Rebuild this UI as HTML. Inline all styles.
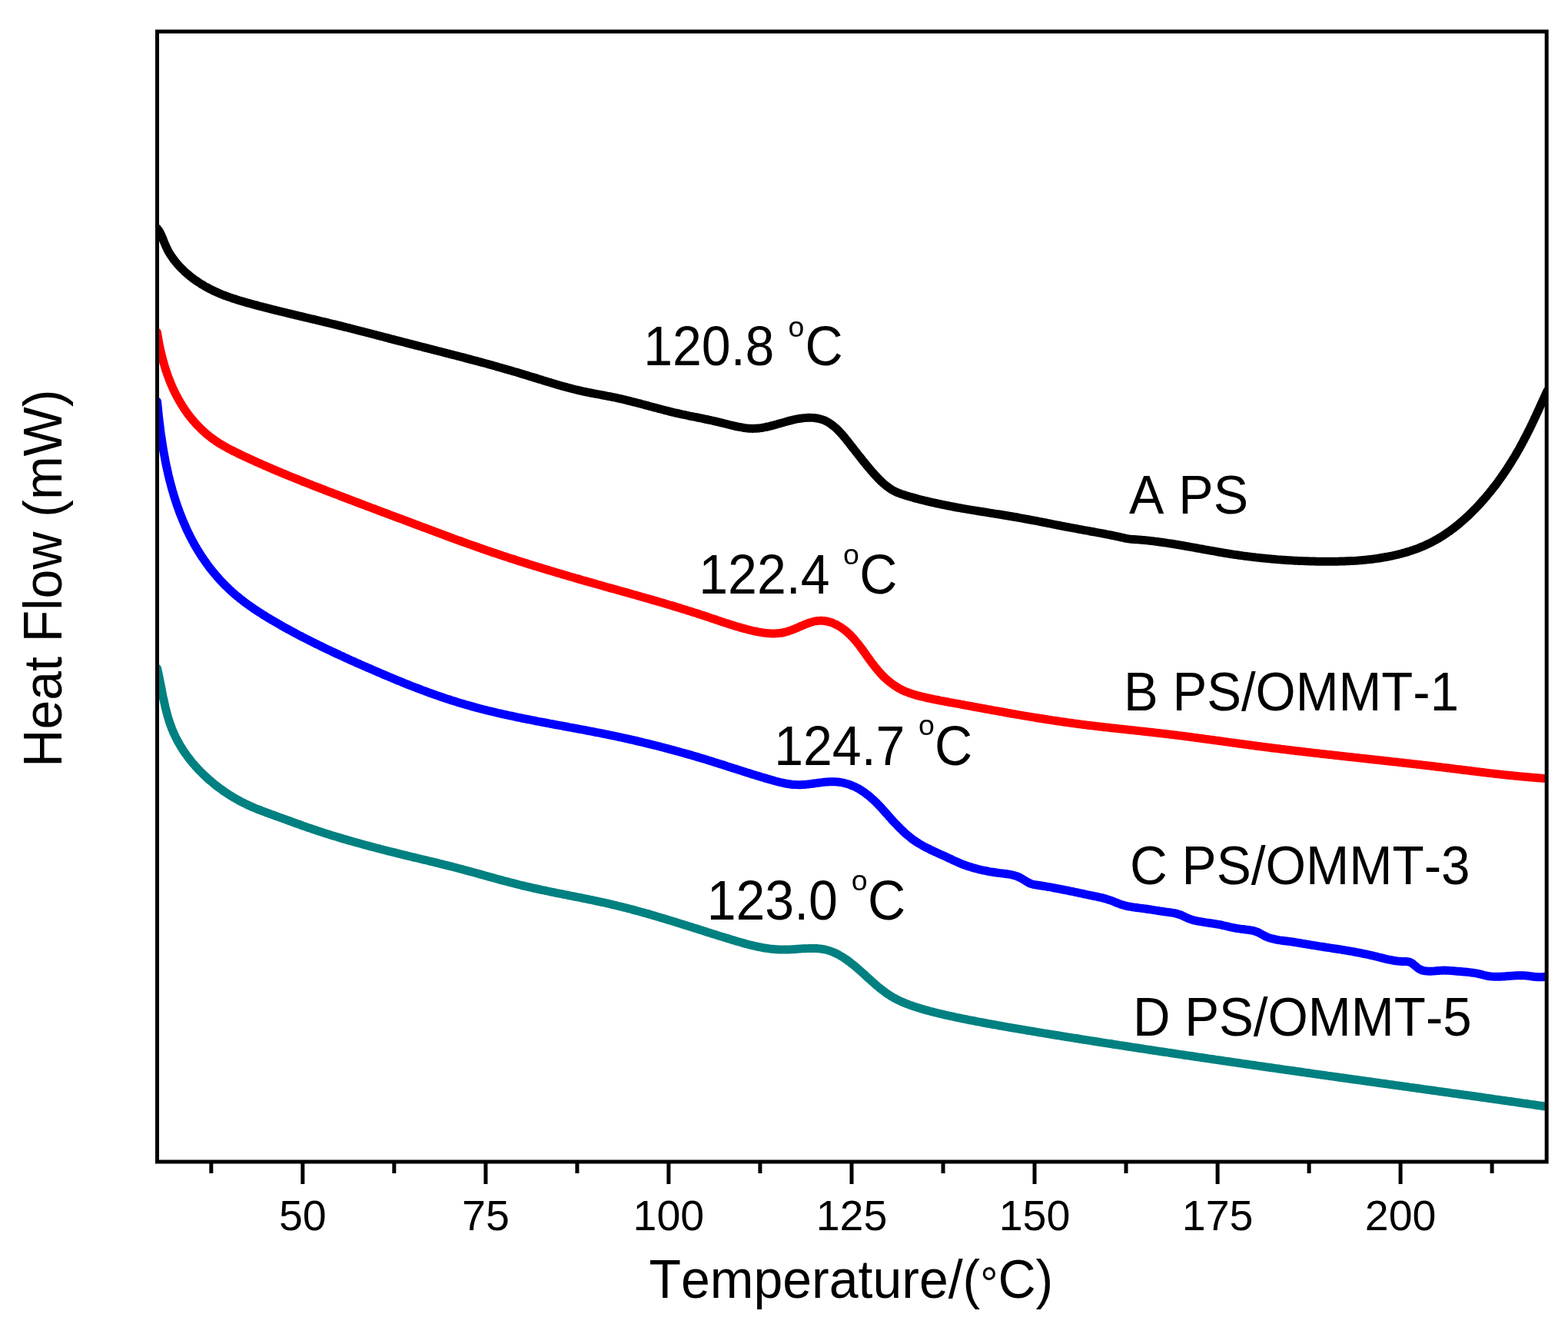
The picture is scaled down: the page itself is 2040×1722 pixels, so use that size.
<!DOCTYPE html>
<html><head><meta charset="utf-8"><title>DSC curves</title>
<style>html,body{margin:0;padding:0;background:#fff;}svg{display:block;filter:blur(0.6px);}text{font-family:"Liberation Sans",Arial,sans-serif;font-kerning:none;}</style>
</head><body>
<svg width="2040" height="1722" viewBox="0 0 2040 1722">
<rect width="100%" height="100%" fill="#fff"/>
<defs><clipPath id="pa"><rect x="204.5" y="41.0" width="1807.7" height="1470.0"/></clipPath></defs>
<g clip-path="url(#pa)" fill="none" stroke-width="11" stroke-linejoin="round" stroke-linecap="round">
<path d="M204.5,297.0 C205.1,297.8 205.7,298.6 206.3,299.4 C206.9,300.3 207.4,301.1 207.9,302.0 C208.4,302.9 208.8,303.8 209.3,304.6 C209.7,305.5 210.1,306.4 210.5,307.4 C210.9,308.3 211.3,309.2 211.7,310.1 C212.1,311.0 212.4,312.0 212.8,312.9 C213.2,313.8 213.5,314.8 213.9,315.7 C214.3,316.6 214.7,317.6 215.1,318.5 C215.4,319.4 215.8,320.3 216.3,321.2 C216.7,322.1 217.1,323.0 217.6,323.9 C218.0,324.8 218.5,325.7 218.9,326.6 C219.4,327.4 219.9,328.3 220.4,329.2 C220.9,330.0 221.5,330.9 222.0,331.7 C222.5,332.5 223.1,333.4 223.7,334.2 C224.2,335.0 224.8,335.8 225.4,336.6 C226.0,337.4 226.6,338.2 227.2,339.0 C227.8,339.8 228.4,340.6 229.1,341.4 C229.7,342.1 230.4,342.9 231.0,343.6 C231.7,344.4 232.3,345.1 233.0,345.9 C233.7,346.6 234.4,347.3 235.1,348.1 C235.8,348.8 236.5,349.5 237.2,350.2 C237.9,350.9 238.6,351.6 239.4,352.3 C240.1,353.0 240.8,353.7 241.6,354.3 C242.3,355.0 243.1,355.7 243.9,356.3 C244.6,357.0 245.4,357.6 246.2,358.3 C246.9,358.9 247.7,359.5 248.5,360.1 C249.3,360.8 250.1,361.4 250.9,362.0 C251.7,362.6 252.5,363.2 253.3,363.8 C254.1,364.4 255.0,364.9 255.8,365.5 C256.6,366.1 257.5,366.6 258.3,367.2 C259.1,367.7 260.0,368.3 260.8,368.8 C261.7,369.4 262.5,369.9 263.4,370.4 C264.3,370.9 265.1,371.4 266.0,372.0 C266.9,372.5 267.7,373.0 268.6,373.4 C269.5,373.9 270.4,374.4 271.3,374.9 C272.2,375.3 273.0,375.8 273.9,376.3 C274.8,376.7 275.7,377.2 276.6,377.6 C277.5,378.0 278.4,378.5 279.3,378.9 C280.3,379.3 281.2,379.7 282.1,380.1 C283.0,380.5 283.9,380.9 284.8,381.3 C285.8,381.7 286.7,382.1 287.6,382.5 C288.5,382.9 289.5,383.2 290.4,383.6 C291.3,384.0 292.2,384.3 293.2,384.7 C294.1,385.0 295.1,385.4 296.0,385.7 C296.9,386.0 297.9,386.4 298.8,386.7 C299.8,387.0 300.7,387.4 301.7,387.7 C302.6,388.0 303.6,388.3 304.5,388.6 C305.5,388.9 306.4,389.2 307.4,389.5 C308.3,389.9 309.3,390.1 310.2,390.4 C311.2,390.7 312.2,391.0 313.1,391.3 C314.1,391.6 315.0,391.9 316.0,392.2 C317.0,392.4 317.9,392.7 318.9,393.0 C319.9,393.3 320.8,393.6 321.8,393.8 C322.8,394.1 323.7,394.4 324.7,394.6 C325.7,394.9 326.6,395.2 327.6,395.4 C328.6,395.7 329.5,395.9 330.5,396.2 C331.5,396.5 332.4,396.7 333.4,397.0 C334.4,397.2 335.4,397.5 336.3,397.8 C337.3,398.0 338.3,398.3 339.2,398.5 C340.2,398.8 341.2,399.0 342.2,399.3 C343.1,399.5 344.1,399.8 345.1,400.0 C346.0,400.3 347.0,400.5 348.0,400.8 C349.0,401.0 349.9,401.3 350.9,401.5 C351.9,401.8 352.8,402.0 353.8,402.3 C354.8,402.5 355.8,402.7 356.7,403.0 C357.7,403.2 358.7,403.5 359.6,403.7 C360.6,404.0 361.6,404.2 362.6,404.4 C363.5,404.7 364.5,404.9 365.5,405.2 C366.5,405.4 367.4,405.6 368.4,405.9 C369.4,406.1 370.4,406.3 371.3,406.6 C372.3,406.8 373.3,407.1 374.3,407.3 C375.2,407.5 376.2,407.8 377.2,408.0 C378.2,408.2 379.1,408.5 380.1,408.7 C381.1,408.9 382.1,409.2 383.0,409.4 C384.0,409.6 385.0,409.9 385.9,410.1 C386.9,410.3 387.9,410.6 388.9,410.8 C389.8,411.0 390.8,411.3 391.8,411.5 C392.8,411.7 393.7,412.0 394.7,412.2 C395.7,412.4 396.7,412.7 397.6,412.9 C398.6,413.1 399.6,413.4 400.6,413.6 C401.5,413.8 402.5,414.1 403.5,414.3 C404.5,414.5 405.4,414.7 406.4,415.0 C407.4,415.2 408.4,415.4 409.3,415.7 C410.3,415.9 411.3,416.1 412.3,416.4 C413.2,416.6 414.2,416.8 415.2,417.1 C416.2,417.3 417.1,417.5 418.1,417.8 C419.1,418.0 420.1,418.2 421.0,418.5 C422.0,418.7 423.0,418.9 424.0,419.2 C424.9,419.4 425.9,419.6 426.9,419.9 C427.9,420.1 428.8,420.4 429.8,420.6 C430.8,420.8 431.8,421.1 432.7,421.3 C433.7,421.5 434.7,421.8 435.7,422.0 C436.6,422.3 437.6,422.5 438.6,422.7 C439.6,423.0 440.5,423.2 441.5,423.5 C442.5,423.7 443.4,423.9 444.4,424.2 C445.4,424.4 446.4,424.7 447.3,424.9 C448.3,425.2 449.3,425.4 450.3,425.6 C451.2,425.9 452.2,426.1 453.2,426.4 C454.1,426.6 455.1,426.9 456.1,427.1 C457.1,427.4 458.0,427.6 459.0,427.9 C460.0,428.1 460.9,428.4 461.9,428.6 C462.9,428.9 463.9,429.1 464.8,429.4 C465.8,429.6 466.8,429.9 467.7,430.1 C468.7,430.4 469.7,430.6 470.7,430.9 C471.6,431.1 472.6,431.4 473.6,431.6 C474.5,431.9 475.5,432.1 476.5,432.4 C477.5,432.6 478.4,432.9 479.4,433.1 C480.4,433.4 481.3,433.6 482.3,433.9 C483.3,434.1 484.2,434.4 485.2,434.6 C486.2,434.9 487.2,435.1 488.1,435.4 C489.1,435.6 490.1,435.9 491.0,436.2 C492.0,436.4 493.0,436.7 494.0,436.9 C494.9,437.2 495.9,437.4 496.9,437.7 C497.8,437.9 498.8,438.2 499.8,438.4 C500.7,438.7 501.7,438.9 502.7,439.2 C503.7,439.4 504.6,439.7 505.6,440.0 C506.6,440.2 507.5,440.5 508.5,440.7 C509.5,441.0 510.4,441.2 511.4,441.5 C512.4,441.7 513.4,442.0 514.3,442.2 C515.3,442.5 516.3,442.7 517.2,443.0 C518.2,443.2 519.2,443.5 520.2,443.7 C521.1,444.0 522.1,444.2 523.1,444.5 C524.0,444.7 525.0,445.0 526.0,445.2 C527.0,445.5 527.9,445.7 528.9,446.0 C529.9,446.2 530.8,446.5 531.8,446.7 C532.8,447.0 533.8,447.2 534.7,447.5 C535.7,447.7 536.7,448.0 537.6,448.2 C538.6,448.5 539.6,448.7 540.5,449.0 C541.5,449.2 542.5,449.5 543.5,449.7 C544.4,450.0 545.4,450.2 546.4,450.5 C547.3,450.7 548.3,451.0 549.3,451.2 C550.3,451.5 551.2,451.7 552.2,452.0 C553.2,452.2 554.1,452.4 555.1,452.7 C556.1,452.9 557.1,453.2 558.0,453.4 C559.0,453.7 560.0,453.9 560.9,454.2 C561.9,454.4 562.9,454.7 563.9,454.9 C564.8,455.2 565.8,455.4 566.8,455.7 C567.7,455.9 568.7,456.2 569.7,456.4 C570.7,456.7 571.6,456.9 572.6,457.2 C573.6,457.4 574.5,457.7 575.5,457.9 C576.5,458.2 577.5,458.4 578.4,458.7 C579.4,458.9 580.4,459.2 581.3,459.4 C582.3,459.7 583.3,459.9 584.2,460.2 C585.2,460.4 586.2,460.7 587.2,460.9 C588.1,461.2 589.1,461.4 590.1,461.7 C591.0,461.9 592.0,462.2 593.0,462.4 C593.9,462.7 594.9,462.9 595.9,463.2 C596.9,463.4 597.8,463.7 598.8,463.9 C599.8,464.2 600.7,464.4 601.7,464.7 C602.7,464.9 603.6,465.2 604.6,465.5 C605.6,465.7 606.6,466.0 607.5,466.2 C608.5,466.5 609.5,466.7 610.4,467.0 C611.4,467.2 612.4,467.5 613.3,467.8 C614.3,468.0 615.3,468.3 616.2,468.5 C617.2,468.8 618.2,469.0 619.1,469.3 C620.1,469.6 621.1,469.8 622.0,470.1 C623.0,470.3 624.0,470.6 625.0,470.9 C625.9,471.1 626.9,471.4 627.9,471.7 C628.8,471.9 629.8,472.2 630.8,472.4 C631.7,472.7 632.7,473.0 633.7,473.2 C634.6,473.5 635.6,473.8 636.6,474.0 C637.5,474.3 638.5,474.6 639.5,474.8 C640.4,475.1 641.4,475.4 642.4,475.6 C643.3,475.9 644.3,476.2 645.2,476.4 C646.2,476.7 647.2,477.0 648.1,477.3 C649.1,477.5 650.1,477.8 651.0,478.1 C652.0,478.4 653.0,478.6 653.9,478.9 C654.9,479.2 655.9,479.5 656.8,479.7 C657.8,480.0 658.7,480.3 659.7,480.6 C660.7,480.8 661.6,481.1 662.6,481.4 C663.6,481.7 664.5,482.0 665.5,482.2 C666.5,482.5 667.4,482.8 668.4,483.1 C669.3,483.4 670.3,483.7 671.3,483.9 C672.2,484.2 673.2,484.5 674.1,484.8 C675.1,485.1 676.1,485.4 677.0,485.7 C678.0,486.0 679.0,486.2 679.9,486.5 C680.9,486.8 681.8,487.1 682.8,487.4 C683.8,487.7 684.7,488.0 685.7,488.3 C686.6,488.6 687.6,488.9 688.5,489.2 C689.5,489.5 690.5,489.8 691.4,490.1 C692.4,490.4 693.3,490.7 694.3,491.0 C695.3,491.2 696.2,491.5 697.2,491.8 C698.1,492.1 699.1,492.4 700.1,492.7 C701.0,493.0 702.0,493.3 702.9,493.6 C703.9,493.9 704.9,494.2 705.8,494.5 C706.8,494.8 707.7,495.1 708.7,495.4 C709.6,495.7 710.6,496.0 711.6,496.3 C712.5,496.6 713.5,496.8 714.4,497.1 C715.4,497.4 716.4,497.7 717.3,498.0 C718.3,498.3 719.3,498.6 720.2,498.9 C721.2,499.1 722.1,499.4 723.1,499.7 C724.1,500.0 725.0,500.3 726.0,500.6 C726.9,500.8 727.9,501.1 728.9,501.4 C729.8,501.7 730.8,501.9 731.8,502.2 C732.7,502.5 733.7,502.7 734.7,503.0 C735.6,503.3 736.6,503.5 737.6,503.8 C738.5,504.0 739.5,504.3 740.5,504.6 C741.4,504.8 742.4,505.1 743.4,505.3 C744.3,505.6 745.3,505.8 746.3,506.1 C747.3,506.3 748.2,506.5 749.2,506.8 C750.2,507.0 751.1,507.3 752.1,507.5 C753.1,507.7 754.1,507.9 755.0,508.2 C756.0,508.4 757.0,508.6 758.0,508.8 C758.9,509.0 759.9,509.3 760.9,509.5 C761.9,509.7 762.9,509.9 763.8,510.1 C764.8,510.3 765.8,510.5 766.8,510.7 C767.8,510.9 768.7,511.1 769.7,511.3 C770.7,511.4 771.7,511.6 772.7,511.8 C773.7,512.0 774.7,512.2 775.6,512.4 C776.6,512.6 777.6,512.7 778.6,512.9 C779.6,513.1 780.6,513.3 781.5,513.5 C782.5,513.7 783.5,513.8 784.5,514.0 C785.5,514.2 786.5,514.4 787.5,514.6 C788.4,514.8 789.4,515.0 790.4,515.2 C791.4,515.3 792.4,515.5 793.4,515.7 C794.4,515.9 795.3,516.1 796.3,516.3 C797.3,516.5 798.3,516.7 799.3,516.9 C800.3,517.1 801.2,517.3 802.2,517.5 C803.2,517.8 804.2,518.0 805.2,518.2 C806.1,518.4 807.1,518.6 808.1,518.9 C809.1,519.1 810.1,519.3 811.0,519.5 C812.0,519.8 813.0,520.0 814.0,520.2 C815.0,520.5 815.9,520.7 816.9,521.0 C817.9,521.2 818.9,521.4 819.8,521.7 C820.8,521.9 821.8,522.2 822.8,522.4 C823.7,522.7 824.7,522.9 825.7,523.2 C826.7,523.4 827.6,523.7 828.6,523.9 C829.6,524.2 830.6,524.4 831.5,524.7 C832.5,524.9 833.5,525.2 834.5,525.5 C835.4,525.7 836.4,526.0 837.4,526.2 C838.3,526.5 839.3,526.8 840.3,527.0 C841.3,527.3 842.2,527.5 843.2,527.8 C844.2,528.1 845.1,528.3 846.1,528.6 C847.1,528.8 848.1,529.1 849.0,529.4 C850.0,529.6 851.0,529.9 851.9,530.1 C852.9,530.4 853.9,530.7 854.9,530.9 C855.8,531.2 856.8,531.4 857.8,531.7 C858.7,531.9 859.7,532.2 860.7,532.4 C861.6,532.7 862.6,533.0 863.6,533.2 C864.6,533.5 865.5,533.7 866.5,533.9 C867.5,534.2 868.4,534.4 869.4,534.7 C870.4,534.9 871.4,535.2 872.3,535.4 C873.3,535.6 874.3,535.9 875.2,536.1 C876.2,536.3 877.2,536.6 878.1,536.8 C879.1,537.0 880.1,537.3 881.1,537.5 C882.0,537.7 883.0,537.9 884.0,538.1 C885.0,538.4 885.9,538.6 886.9,538.8 C887.9,539.0 888.8,539.2 889.8,539.4 C890.8,539.6 891.8,539.8 892.7,540.0 C893.7,540.2 894.7,540.4 895.7,540.6 C896.6,540.9 897.6,541.1 898.6,541.3 C899.6,541.5 900.5,541.7 901.5,541.9 C902.5,542.1 903.5,542.3 904.4,542.4 C905.4,542.6 906.4,542.8 907.4,543.0 C908.3,543.2 909.3,543.4 910.3,543.6 C911.3,543.8 912.2,544.0 913.2,544.2 C914.2,544.4 915.2,544.6 916.2,544.8 C917.1,545.1 918.1,545.3 919.1,545.5 C920.1,545.7 921.1,545.9 922.0,546.1 C923.0,546.3 924.0,546.5 925.0,546.7 C926.0,546.9 926.9,547.1 927.9,547.4 C928.9,547.6 929.9,547.8 930.9,548.0 C931.9,548.2 932.8,548.5 933.8,548.7 C934.8,548.9 935.8,549.2 936.8,549.4 C937.8,549.6 938.8,549.9 939.7,550.1 C940.7,550.4 941.7,550.6 942.7,550.9 C943.7,551.1 944.7,551.4 945.7,551.6 C946.7,551.9 947.7,552.1 948.6,552.4 C949.6,552.6 950.6,552.9 951.6,553.1 C952.6,553.3 953.6,553.6 954.6,553.8 C955.6,554.1 956.6,554.3 957.6,554.5 C958.6,554.7 959.5,554.9 960.5,555.1 C961.5,555.3 962.5,555.5 963.5,555.7 C964.5,555.9 965.5,556.1 966.5,556.2 C967.5,556.4 968.4,556.5 969.4,556.7 C970.4,556.8 971.4,556.9 972.4,557.0 C973.4,557.1 974.4,557.2 975.3,557.2 C976.3,557.3 977.3,557.3 978.3,557.4 C979.3,557.4 980.3,557.4 981.2,557.3 C982.2,557.3 983.2,557.3 984.2,557.2 C985.1,557.1 986.1,557.1 987.1,557.0 C988.1,556.8 989.0,556.7 990.0,556.6 C991.0,556.5 992.0,556.3 992.9,556.1 C993.9,556.0 994.9,555.8 995.9,555.6 C996.8,555.4 997.8,555.2 998.8,555.0 C999.8,554.7 1000.7,554.5 1001.7,554.3 C1002.7,554.0 1003.6,553.8 1004.6,553.5 C1005.6,553.3 1006.6,553.0 1007.5,552.7 C1008.5,552.5 1009.5,552.2 1010.5,551.9 C1011.4,551.7 1012.4,551.4 1013.4,551.1 C1014.4,550.8 1015.3,550.5 1016.3,550.2 C1017.3,550.0 1018.3,549.7 1019.3,549.4 C1020.2,549.1 1021.2,548.8 1022.2,548.6 C1023.2,548.3 1024.2,548.0 1025.2,547.7 C1026.1,547.5 1027.1,547.2 1028.1,547.0 C1029.1,546.7 1030.1,546.5 1031.1,546.2 C1032.1,546.0 1033.1,545.8 1034.1,545.6 C1035.1,545.3 1036.1,545.1 1037.1,544.9 C1038.1,544.7 1039.1,544.6 1040.1,544.4 C1041.1,544.2 1042.1,544.1 1043.1,544.0 C1044.1,543.8 1045.1,543.7 1046.1,543.6 C1047.1,543.5 1048.1,543.4 1049.1,543.4 C1050.1,543.3 1051.1,543.3 1052.2,543.2 C1053.2,543.2 1054.1,543.2 1055.1,543.3 C1056.1,543.3 1057.1,543.3 1058.1,543.4 C1059.1,543.5 1060.1,543.6 1061.0,543.7 C1062.0,543.8 1063.0,544.0 1063.9,544.2 C1064.9,544.3 1065.8,544.6 1066.8,544.8 C1067.7,545.0 1068.6,545.3 1069.5,545.6 C1070.4,545.9 1071.3,546.3 1072.2,546.6 C1073.1,547.0 1074.0,547.4 1074.9,547.8 C1075.7,548.3 1076.6,548.7 1077.4,549.2 C1078.2,549.7 1079.1,550.2 1079.9,550.8 C1080.7,551.3 1081.5,551.9 1082.3,552.5 C1083.1,553.1 1083.9,553.7 1084.7,554.4 C1085.4,555.0 1086.2,555.7 1087.0,556.3 C1087.7,557.0 1088.5,557.7 1089.2,558.4 C1089.9,559.1 1090.7,559.9 1091.4,560.6 C1092.1,561.4 1092.8,562.1 1093.5,562.9 C1094.2,563.7 1094.9,564.4 1095.6,565.2 C1096.3,566.0 1097.0,566.8 1097.7,567.6 C1098.4,568.4 1099.0,569.2 1099.7,570.0 C1100.4,570.8 1101.0,571.6 1101.7,572.5 C1102.3,573.3 1103.0,574.1 1103.6,574.9 C1104.3,575.7 1104.9,576.5 1105.5,577.3 C1106.2,578.1 1106.8,578.9 1107.4,579.8 C1108.0,580.5 1108.7,581.3 1109.3,582.1 C1109.9,582.9 1110.5,583.7 1111.1,584.5 C1111.8,585.3 1112.4,586.1 1113.0,586.9 C1113.6,587.7 1114.2,588.4 1114.8,589.2 C1115.4,590.0 1116.0,590.8 1116.6,591.5 C1117.2,592.3 1117.8,593.1 1118.5,593.9 C1119.1,594.6 1119.7,595.4 1120.3,596.2 C1120.9,596.9 1121.5,597.7 1122.1,598.5 C1122.7,599.2 1123.3,600.0 1123.9,600.7 C1124.6,601.5 1125.2,602.3 1125.8,603.0 C1126.4,603.8 1127.0,604.5 1127.7,605.3 C1128.3,606.1 1128.9,606.8 1129.6,607.6 C1130.2,608.3 1130.8,609.1 1131.5,609.8 C1132.1,610.6 1132.8,611.4 1133.4,612.1 C1134.1,612.9 1134.7,613.6 1135.4,614.4 C1136.0,615.1 1136.7,615.9 1137.4,616.6 C1138.1,617.4 1138.8,618.2 1139.4,618.9 C1140.1,619.7 1140.8,620.4 1141.5,621.1 C1142.2,621.9 1142.9,622.6 1143.7,623.3 C1144.4,624.1 1145.1,624.8 1145.8,625.5 C1146.6,626.2 1147.3,626.9 1148.1,627.6 C1148.8,628.3 1149.6,628.9 1150.4,629.6 C1151.1,630.3 1151.9,630.9 1152.7,631.5 C1153.5,632.2 1154.3,632.8 1155.1,633.4 C1155.9,634.0 1156.7,634.6 1157.6,635.1 C1158.4,635.7 1159.2,636.2 1160.1,636.8 C1160.9,637.3 1161.8,637.8 1162.7,638.3 C1163.5,638.7 1164.4,639.2 1165.3,639.6 C1166.2,640.0 1167.1,640.4 1168.1,640.8 C1169.0,641.2 1169.9,641.6 1170.8,641.9 C1171.8,642.3 1172.7,642.6 1173.7,642.9 C1174.6,643.2 1175.6,643.5 1176.5,643.8 C1177.5,644.1 1178.4,644.4 1179.4,644.7 C1180.4,645.0 1181.3,645.3 1182.3,645.6 C1183.3,645.9 1184.2,646.1 1185.2,646.4 C1186.2,646.7 1187.1,647.0 1188.1,647.2 C1189.1,647.5 1190.0,647.8 1191.0,648.0 C1192.0,648.3 1192.9,648.5 1193.9,648.8 C1194.9,649.1 1195.8,649.3 1196.8,649.6 C1197.8,649.8 1198.8,650.1 1199.7,650.3 C1200.7,650.6 1201.7,650.8 1202.6,651.0 C1203.6,651.3 1204.6,651.5 1205.6,651.8 C1206.5,652.0 1207.5,652.2 1208.5,652.5 C1209.5,652.7 1210.4,652.9 1211.4,653.1 C1212.4,653.4 1213.4,653.6 1214.4,653.8 C1215.3,654.0 1216.3,654.2 1217.3,654.5 C1218.3,654.7 1219.3,654.9 1220.2,655.1 C1221.2,655.3 1222.2,655.5 1223.2,655.7 C1224.2,655.9 1225.1,656.1 1226.1,656.3 C1227.1,656.5 1228.1,656.7 1229.1,656.9 C1230.0,657.1 1231.0,657.3 1232.0,657.5 C1233.0,657.7 1234.0,657.9 1235.0,658.1 C1236.0,658.3 1236.9,658.5 1237.9,658.7 C1238.9,658.9 1239.9,659.1 1240.9,659.2 C1241.9,659.4 1242.8,659.6 1243.8,659.8 C1244.8,660.0 1245.8,660.1 1246.8,660.3 C1247.8,660.5 1248.8,660.7 1249.8,660.8 C1250.7,661.0 1251.7,661.2 1252.7,661.4 C1253.7,661.5 1254.7,661.7 1255.7,661.9 C1256.7,662.0 1257.7,662.2 1258.6,662.4 C1259.6,662.5 1260.6,662.7 1261.6,662.9 C1262.6,663.0 1263.6,663.2 1264.6,663.4 C1265.6,663.5 1266.6,663.7 1267.5,663.8 C1268.5,664.0 1269.5,664.2 1270.5,664.3 C1271.5,664.5 1272.5,664.6 1273.5,664.8 C1274.5,665.0 1275.5,665.1 1276.5,665.3 C1277.4,665.4 1278.4,665.6 1279.4,665.7 C1280.4,665.9 1281.4,666.1 1282.4,666.2 C1283.4,666.4 1284.4,666.5 1285.4,666.7 C1286.4,666.8 1287.3,667.0 1288.3,667.2 C1289.3,667.3 1290.3,667.5 1291.3,667.6 C1292.3,667.8 1293.3,667.9 1294.3,668.1 C1295.3,668.3 1296.3,668.4 1297.2,668.6 C1298.2,668.7 1299.2,668.9 1300.2,669.0 C1301.2,669.2 1302.2,669.4 1303.2,669.5 C1304.2,669.7 1305.2,669.8 1306.2,670.0 C1307.1,670.2 1308.1,670.3 1309.1,670.5 C1310.1,670.7 1311.1,670.8 1312.1,671.0 C1313.1,671.2 1314.1,671.3 1315.1,671.5 C1316.0,671.7 1317.0,671.8 1318.0,672.0 C1319.0,672.2 1320.0,672.3 1321.0,672.5 C1322.0,672.7 1323.0,672.9 1323.9,673.0 C1324.9,673.2 1325.9,673.4 1326.9,673.6 C1327.9,673.7 1328.9,673.9 1329.9,674.1 C1330.8,674.3 1331.8,674.5 1332.8,674.7 C1333.8,674.8 1334.8,675.0 1335.8,675.2 C1336.8,675.4 1337.7,675.6 1338.7,675.8 C1339.7,675.9 1340.7,676.1 1341.7,676.3 C1342.7,676.5 1343.6,676.7 1344.6,676.9 C1345.6,677.1 1346.6,677.3 1347.6,677.4 C1348.6,677.6 1349.6,677.8 1350.5,678.0 C1351.5,678.2 1352.5,678.4 1353.5,678.6 C1354.5,678.8 1355.5,679.0 1356.4,679.2 C1357.4,679.4 1358.4,679.6 1359.4,679.7 C1360.4,679.9 1361.4,680.1 1362.3,680.3 C1363.3,680.5 1364.3,680.7 1365.3,680.9 C1366.3,681.1 1367.3,681.3 1368.2,681.5 C1369.2,681.7 1370.2,681.9 1371.2,682.1 C1372.2,682.3 1373.2,682.5 1374.2,682.7 C1375.1,682.8 1376.1,683.0 1377.1,683.2 C1378.1,683.4 1379.1,683.6 1380.1,683.8 C1381.0,684.0 1382.0,684.2 1383.0,684.4 C1384.0,684.6 1385.0,684.8 1386.0,685.0 C1387.0,685.1 1387.9,685.3 1388.9,685.5 C1389.9,685.7 1390.9,685.9 1391.9,686.1 C1392.9,686.3 1393.9,686.5 1394.8,686.6 C1395.8,686.8 1396.8,687.0 1397.8,687.2 C1398.8,687.4 1399.8,687.6 1400.8,687.7 C1401.7,687.9 1402.7,688.1 1403.7,688.3 C1404.7,688.5 1405.7,688.7 1406.7,688.8 C1407.7,689.0 1408.7,689.2 1409.6,689.4 C1410.6,689.5 1411.6,689.7 1412.6,689.9 C1413.6,690.1 1414.6,690.3 1415.6,690.4 C1416.6,690.6 1417.5,690.8 1418.5,691.0 C1419.5,691.2 1420.5,691.3 1421.5,691.5 C1422.5,691.7 1423.5,691.9 1424.5,692.0 C1425.4,692.2 1426.4,692.4 1427.4,692.6 C1428.4,692.8 1429.4,692.9 1430.4,693.1 C1431.4,693.3 1432.3,693.5 1433.3,693.7 C1434.3,693.9 1435.3,694.1 1436.3,694.2 C1437.3,694.4 1438.2,694.6 1439.2,694.8 C1440.2,695.0 1441.2,695.2 1442.2,695.4 C1443.2,695.6 1444.1,695.8 1445.1,696.0 C1446.1,696.2 1447.1,696.4 1448.0,696.6 C1449.0,696.8 1450.0,697.0 1451.0,697.2 C1452.0,697.4 1452.9,697.6 1453.9,697.8 C1454.9,698.0 1455.9,698.2 1456.8,698.4 C1457.8,698.6 1458.8,698.9 1459.7,699.1 C1460.7,699.3 1461.7,699.5 1462.6,699.7 C1463.6,700.0 1464.6,700.2 1465.6,700.4 C1466.5,700.5 1467.5,700.7 1468.5,700.9 C1469.5,701.0 1470.5,701.1 1471.4,701.2 C1472.4,701.3 1473.4,701.4 1474.4,701.5 C1475.4,701.6 1476.4,701.6 1477.4,701.7 C1478.4,701.8 1479.4,701.8 1480.4,701.9 C1481.4,702.0 1482.4,702.1 1483.4,702.1 C1484.4,702.2 1485.4,702.3 1486.4,702.4 C1487.4,702.5 1488.4,702.6 1489.3,702.6 C1490.3,702.7 1491.3,702.8 1492.3,702.9 C1493.3,703.0 1494.3,703.1 1495.3,703.2 C1496.3,703.4 1497.3,703.5 1498.3,703.6 C1499.3,703.7 1500.3,703.8 1501.3,703.9 C1502.3,704.0 1503.3,704.2 1504.3,704.3 C1505.3,704.4 1506.2,704.5 1507.2,704.7 C1508.2,704.8 1509.2,704.9 1510.2,705.1 C1511.2,705.2 1512.2,705.4 1513.2,705.5 C1514.2,705.6 1515.2,705.8 1516.2,705.9 C1517.2,706.1 1518.2,706.2 1519.1,706.4 C1520.1,706.5 1521.1,706.7 1522.1,706.8 C1523.1,707.0 1524.1,707.1 1525.1,707.3 C1526.1,707.4 1527.1,707.6 1528.1,707.8 C1529.0,707.9 1530.0,708.1 1531.0,708.3 C1532.0,708.4 1533.0,708.6 1534.0,708.8 C1535.0,708.9 1536.0,709.1 1537.0,709.3 C1537.9,709.4 1538.9,709.6 1539.9,709.8 C1540.9,709.9 1541.9,710.1 1542.9,710.3 C1543.9,710.5 1544.9,710.6 1545.8,710.8 C1546.8,711.0 1547.8,711.2 1548.8,711.4 C1549.8,711.5 1550.8,711.7 1551.8,711.9 C1552.8,712.1 1553.7,712.2 1554.7,712.4 C1555.7,712.6 1556.7,712.8 1557.7,713.0 C1558.7,713.1 1559.7,713.3 1560.6,713.5 C1561.6,713.7 1562.6,713.9 1563.6,714.0 C1564.6,714.2 1565.6,714.4 1566.6,714.6 C1567.5,714.8 1568.5,714.9 1569.5,715.1 C1570.5,715.3 1571.5,715.5 1572.5,715.7 C1573.5,715.8 1574.4,716.0 1575.4,716.2 C1576.4,716.4 1577.4,716.5 1578.4,716.7 C1579.4,716.9 1580.4,717.1 1581.4,717.2 C1582.3,717.4 1583.3,717.6 1584.3,717.8 C1585.3,717.9 1586.3,718.1 1587.3,718.3 C1588.3,718.4 1589.3,718.6 1590.2,718.8 C1591.2,718.9 1592.2,719.1 1593.2,719.3 C1594.2,719.4 1595.2,719.6 1596.2,719.8 C1597.2,719.9 1598.2,720.1 1599.1,720.2 C1600.1,720.4 1601.1,720.5 1602.1,720.7 C1603.1,720.9 1604.1,721.0 1605.1,721.2 C1606.1,721.3 1607.1,721.4 1608.1,721.6 C1609.1,721.7 1610.0,721.9 1611.0,722.0 C1612.0,722.2 1613.0,722.3 1614.0,722.4 C1615.0,722.6 1616.0,722.7 1617.0,722.9 C1618.0,723.0 1619.0,723.1 1620.0,723.3 C1621.0,723.4 1622.0,723.5 1623.0,723.6 C1624.0,723.8 1625.0,723.9 1626.0,724.0 C1626.9,724.1 1627.9,724.3 1628.9,724.4 C1629.9,724.5 1630.9,724.6 1631.9,724.7 C1632.9,724.9 1633.9,725.0 1634.9,725.1 C1635.9,725.2 1636.9,725.3 1637.9,725.4 C1638.9,725.5 1639.9,725.6 1640.9,725.7 C1641.9,725.8 1642.9,725.9 1643.9,726.0 C1644.9,726.1 1645.9,726.2 1646.9,726.3 C1647.9,726.4 1648.9,726.5 1649.9,726.6 C1650.9,726.7 1651.9,726.8 1652.9,726.9 C1653.9,727.0 1654.9,727.1 1655.9,727.2 C1656.9,727.3 1657.9,727.3 1658.9,727.4 C1659.9,727.5 1660.9,727.6 1661.9,727.7 C1662.9,727.7 1663.9,727.8 1664.9,727.9 C1665.9,728.0 1666.9,728.0 1667.9,728.1 C1668.9,728.2 1669.9,728.3 1670.9,728.3 C1671.9,728.4 1672.9,728.5 1673.9,728.5 C1674.9,728.6 1675.9,728.7 1676.9,728.7 C1677.9,728.8 1678.9,728.8 1679.9,728.9 C1680.9,729.0 1681.9,729.0 1682.9,729.1 C1683.9,729.1 1684.9,729.2 1685.9,729.2 C1686.9,729.3 1687.9,729.3 1688.9,729.4 C1689.9,729.4 1690.9,729.5 1691.9,729.5 C1692.9,729.6 1693.9,729.6 1694.9,729.6 C1695.9,729.7 1696.9,729.7 1697.9,729.7 C1698.9,729.8 1699.9,729.8 1700.9,729.8 C1702.0,729.9 1703.0,729.9 1704.0,729.9 C1705.0,730.0 1706.0,730.0 1707.0,730.0 C1708.0,730.0 1709.0,730.1 1710.0,730.1 C1711.0,730.1 1712.0,730.1 1713.0,730.2 C1714.0,730.2 1715.0,730.2 1716.0,730.2 C1717.0,730.2 1718.0,730.2 1719.0,730.2 C1720.0,730.3 1721.0,730.3 1722.0,730.3 C1723.0,730.3 1724.0,730.3 1725.0,730.3 C1726.0,730.3 1727.0,730.3 1728.0,730.3 C1729.0,730.3 1730.0,730.3 1731.0,730.3 C1732.0,730.3 1733.0,730.3 1734.0,730.3 C1735.0,730.3 1736.0,730.2 1737.0,730.2 C1738.0,730.2 1739.0,730.2 1740.0,730.2 C1741.0,730.2 1742.0,730.1 1743.0,730.1 C1744.0,730.1 1745.0,730.1 1746.0,730.0 C1747.0,730.0 1748.0,730.0 1749.0,729.9 C1750.0,729.9 1751.0,729.9 1752.0,729.8 C1753.0,729.8 1754.0,729.7 1755.0,729.7 C1756.0,729.6 1757.0,729.6 1758.0,729.5 C1759.0,729.5 1760.0,729.4 1761.0,729.4 C1762.0,729.3 1763.0,729.2 1764.0,729.2 C1765.0,729.1 1766.0,729.0 1767.0,729.0 C1768.0,728.9 1769.0,728.8 1770.0,728.7 C1771.0,728.7 1772.0,728.6 1773.0,728.5 C1774.0,728.4 1775.0,728.3 1776.0,728.2 C1777.0,728.1 1778.0,728.0 1779.0,727.9 C1780.0,727.8 1781.0,727.7 1782.0,727.6 C1783.0,727.4 1784.0,727.3 1785.0,727.2 C1786.0,727.1 1786.9,727.0 1787.9,726.8 C1788.9,726.7 1789.9,726.6 1790.9,726.4 C1791.9,726.3 1792.9,726.1 1793.9,726.0 C1794.9,725.8 1795.9,725.7 1796.9,725.5 C1797.9,725.4 1798.9,725.2 1799.9,725.0 C1800.8,724.9 1801.8,724.7 1802.8,724.5 C1803.8,724.3 1804.8,724.1 1805.8,724.0 C1806.8,723.8 1807.8,723.6 1808.8,723.4 C1809.8,723.2 1810.7,723.0 1811.7,722.8 C1812.7,722.5 1813.7,722.3 1814.7,722.1 C1815.7,721.9 1816.6,721.6 1817.6,721.4 C1818.6,721.2 1819.6,720.9 1820.6,720.7 C1821.5,720.5 1822.5,720.2 1823.5,719.9 C1824.5,719.7 1825.4,719.4 1826.4,719.1 C1827.4,718.9 1828.3,718.6 1829.3,718.3 C1830.3,718.0 1831.2,717.7 1832.2,717.5 C1833.2,717.2 1834.1,716.9 1835.1,716.5 C1836.0,716.2 1837.0,715.9 1837.9,715.6 C1838.9,715.3 1839.8,714.9 1840.8,714.6 C1841.7,714.3 1842.7,713.9 1843.6,713.6 C1844.5,713.2 1845.5,712.9 1846.4,712.5 C1847.3,712.1 1848.3,711.8 1849.2,711.4 C1850.1,711.0 1851.1,710.6 1852.0,710.2 C1852.9,709.8 1853.8,709.4 1854.7,709.0 C1855.6,708.6 1856.5,708.2 1857.4,707.8 C1858.3,707.3 1859.2,706.9 1860.1,706.5 C1861.0,706.0 1861.9,705.6 1862.8,705.1 C1863.7,704.6 1864.6,704.2 1865.5,703.7 C1866.3,703.2 1867.2,702.7 1868.1,702.3 C1869.0,701.8 1869.8,701.3 1870.7,700.8 C1871.5,700.3 1872.4,699.8 1873.3,699.2 C1874.1,698.7 1875.0,698.2 1875.8,697.7 C1876.7,697.1 1877.5,696.6 1878.3,696.0 C1879.2,695.5 1880.0,695.0 1880.8,694.4 C1881.7,693.8 1882.5,693.3 1883.3,692.7 C1884.1,692.1 1884.9,691.5 1885.8,691.0 C1886.6,690.4 1887.4,689.8 1888.2,689.2 C1889.0,688.6 1889.8,688.0 1890.6,687.4 C1891.4,686.8 1892.2,686.2 1893.0,685.6 C1893.8,684.9 1894.6,684.3 1895.3,683.7 C1896.1,683.1 1896.9,682.4 1897.7,681.8 C1898.4,681.1 1899.2,680.5 1900.0,679.8 C1900.7,679.2 1901.5,678.5 1902.3,677.9 C1903.0,677.2 1903.8,676.6 1904.5,675.9 C1905.3,675.2 1906.0,674.6 1906.8,673.9 C1907.5,673.2 1908.3,672.5 1909.0,671.8 C1909.7,671.1 1910.5,670.5 1911.2,669.8 C1911.9,669.1 1912.6,668.4 1913.4,667.7 C1914.1,667.0 1914.8,666.3 1915.5,665.5 C1916.2,664.8 1916.9,664.1 1917.6,663.4 C1918.3,662.7 1919.0,662.0 1919.7,661.3 C1920.4,660.5 1921.1,659.8 1921.8,659.1 C1922.5,658.3 1923.2,657.6 1923.9,656.9 C1924.6,656.1 1925.3,655.4 1925.9,654.7 C1926.6,653.9 1927.3,653.2 1927.9,652.4 C1928.6,651.7 1929.3,650.9 1929.9,650.2 C1930.6,649.4 1931.3,648.7 1931.9,647.9 C1932.6,647.2 1933.2,646.4 1933.9,645.6 C1934.5,644.9 1935.2,644.1 1935.8,643.3 C1936.4,642.6 1937.1,641.8 1937.7,641.0 C1938.4,640.2 1939.0,639.4 1939.6,638.7 C1940.2,637.9 1940.9,637.1 1941.5,636.3 C1942.1,635.5 1942.7,634.7 1943.3,633.9 C1943.9,633.2 1944.6,632.4 1945.2,631.6 C1945.8,630.8 1946.4,630.0 1947.0,629.2 C1947.6,628.4 1948.2,627.6 1948.8,626.7 C1949.4,625.9 1950.0,625.1 1950.5,624.3 C1951.1,623.5 1951.7,622.7 1952.3,621.9 C1952.9,621.1 1953.5,620.2 1954.0,619.4 C1954.6,618.6 1955.2,617.8 1955.7,617.0 C1956.3,616.1 1956.9,615.3 1957.4,614.5 C1958.0,613.6 1958.6,612.8 1959.1,612.0 C1959.7,611.1 1960.2,610.3 1960.8,609.5 C1961.3,608.6 1961.9,607.8 1962.4,606.9 C1963.0,606.1 1963.5,605.3 1964.0,604.4 C1964.6,603.6 1965.1,602.7 1965.6,601.9 C1966.2,601.0 1966.7,600.2 1967.2,599.3 C1967.8,598.5 1968.3,597.6 1968.8,596.7 C1969.3,595.9 1969.8,595.0 1970.4,594.2 C1970.9,593.3 1971.4,592.4 1971.9,591.6 C1972.4,590.7 1972.9,589.8 1973.4,589.0 C1973.9,588.1 1974.4,587.2 1974.9,586.4 C1975.4,585.5 1975.9,584.6 1976.4,583.8 C1976.9,582.9 1977.4,582.0 1977.9,581.1 C1978.4,580.2 1978.8,579.4 1979.3,578.5 C1979.8,577.6 1980.3,576.7 1980.8,575.8 C1981.2,575.0 1981.7,574.1 1982.2,573.2 C1982.6,572.3 1983.1,571.4 1983.6,570.5 C1984.0,569.6 1984.5,568.8 1985.0,567.9 C1985.4,567.0 1985.9,566.1 1986.3,565.2 C1986.8,564.3 1987.3,563.4 1987.7,562.5 C1988.2,561.6 1988.6,560.7 1989.0,559.8 C1989.5,558.9 1989.9,558.0 1990.4,557.1 C1990.8,556.2 1991.3,555.3 1991.7,554.4 C1992.1,553.5 1992.6,552.6 1993.0,551.7 C1993.4,550.8 1993.9,549.9 1994.3,549.0 C1994.7,548.1 1995.1,547.2 1995.6,546.3 C1996.0,545.4 1996.4,544.5 1996.8,543.6 C1997.3,542.7 1997.7,541.8 1998.1,540.9 C1998.5,539.9 1999.0,539.0 1999.4,538.1 C1999.8,537.2 2000.2,536.3 2000.6,535.4 C2001.0,534.5 2001.5,533.6 2001.9,532.7 C2002.3,531.8 2002.7,530.8 2003.1,529.9 C2003.5,529.0 2004.0,528.1 2004.4,527.2 C2004.8,526.3 2005.2,525.4 2005.6,524.5 C2006.0,523.6 2006.5,522.6 2006.9,521.7 C2007.3,520.8 2007.7,519.9 2008.1,519.0 C2008.5,518.1 2009.0,517.2 2009.4,516.3 C2009.8,515.4 2010.2,514.4 2010.6,513.5 C2011.1,512.6 2011.5,511.7 2011.9,510.8 C2012.3,509.9 2012.7,509.0 2013.2,508.1" stroke="#000"/>
<path d="M204.4,432.1 C204.6,433.1 204.7,434.0 204.9,435.0 C205.0,436.0 205.2,437.0 205.4,437.9 C205.5,438.9 205.7,439.9 205.9,440.9 C206.0,441.9 206.2,442.8 206.4,443.8 C206.6,444.8 206.8,445.8 206.9,446.8 C207.1,447.8 207.3,448.7 207.5,449.7 C207.7,450.7 207.9,451.7 208.1,452.7 C208.3,453.6 208.6,454.6 208.8,455.6 C209.0,456.6 209.2,457.5 209.4,458.5 C209.7,459.5 209.9,460.5 210.1,461.5 C210.4,462.4 210.6,463.4 210.9,464.4 C211.1,465.4 211.4,466.3 211.6,467.3 C211.9,468.3 212.2,469.2 212.4,470.2 C212.7,471.2 213.0,472.1 213.3,473.1 C213.5,474.1 213.8,475.0 214.1,476.0 C214.4,477.0 214.7,477.9 215.0,478.9 C215.3,479.9 215.6,480.8 215.9,481.8 C216.3,482.7 216.6,483.7 216.9,484.6 C217.2,485.6 217.6,486.5 217.9,487.5 C218.2,488.4 218.6,489.4 218.9,490.3 C219.3,491.3 219.6,492.2 220.0,493.1 C220.4,494.1 220.7,495.0 221.1,495.9 C221.5,496.9 221.9,497.8 222.2,498.7 C222.6,499.7 223.0,500.6 223.4,501.5 C223.8,502.4 224.2,503.3 224.6,504.3 C225.1,505.2 225.5,506.1 225.9,507.0 C226.3,507.9 226.8,508.8 227.2,509.7 C227.6,510.6 228.1,511.5 228.5,512.4 C229.0,513.3 229.4,514.2 229.9,515.1 C230.4,516.0 230.8,516.8 231.3,517.7 C231.8,518.6 232.3,519.5 232.8,520.3 C233.3,521.2 233.8,522.1 234.3,522.9 C234.8,523.8 235.3,524.7 235.8,525.5 C236.3,526.4 236.9,527.2 237.4,528.1 C237.9,528.9 238.5,529.7 239.0,530.6 C239.6,531.4 240.1,532.2 240.7,533.1 C241.2,533.9 241.8,534.7 242.4,535.5 C243.0,536.3 243.6,537.2 244.1,538.0 C244.7,538.8 245.3,539.6 245.9,540.4 C246.6,541.1 247.2,541.9 247.8,542.7 C248.4,543.5 249.0,544.3 249.7,545.1 C250.3,545.8 251.0,546.6 251.6,547.4 C252.3,548.1 252.9,548.9 253.6,549.6 C254.3,550.4 255.0,551.1 255.6,551.8 C256.3,552.6 257.0,553.3 257.7,554.0 C258.4,554.8 259.1,555.5 259.8,556.2 C260.5,556.9 261.3,557.6 262.0,558.3 C262.7,559.0 263.4,559.7 264.2,560.4 C264.9,561.0 265.7,561.7 266.4,562.4 C267.2,563.0 267.9,563.7 268.7,564.3 C269.5,565.0 270.2,565.6 271.0,566.3 C271.8,566.9 272.6,567.5 273.4,568.1 C274.2,568.8 275.0,569.4 275.8,570.0 C276.6,570.6 277.4,571.2 278.2,571.7 C279.0,572.3 279.8,572.9 280.7,573.5 C281.5,574.0 282.3,574.6 283.2,575.1 C284.0,575.7 284.8,576.2 285.7,576.8 C286.5,577.3 287.4,577.8 288.2,578.3 C289.1,578.8 290.0,579.3 290.8,579.9 C291.7,580.4 292.6,580.8 293.4,581.3 C294.3,581.8 295.2,582.3 296.1,582.8 C296.9,583.3 297.8,583.7 298.7,584.2 C299.6,584.7 300.5,585.1 301.4,585.6 C302.3,586.0 303.2,586.5 304.1,586.9 C305.0,587.4 305.9,587.8 306.8,588.3 C307.7,588.7 308.6,589.2 309.5,589.6 C310.4,590.0 311.3,590.5 312.2,590.9 C313.1,591.3 314.0,591.8 314.9,592.2 C315.8,592.6 316.7,593.1 317.6,593.5 C318.5,593.9 319.4,594.3 320.3,594.8 C321.2,595.2 322.2,595.6 323.1,596.0 C324.0,596.4 324.9,596.9 325.8,597.3 C326.7,597.7 327.6,598.1 328.5,598.5 C329.4,598.9 330.4,599.4 331.3,599.8 C332.2,600.2 333.1,600.6 334.0,601.0 C334.9,601.4 335.8,601.8 336.8,602.2 C337.7,602.6 338.6,603.0 339.5,603.4 C340.4,603.8 341.3,604.3 342.3,604.7 C343.2,605.1 344.1,605.5 345.0,605.9 C345.9,606.3 346.9,606.7 347.8,607.1 C348.7,607.5 349.6,607.9 350.5,608.3 C351.5,608.6 352.4,609.0 353.3,609.4 C354.2,609.8 355.1,610.2 356.1,610.6 C357.0,611.0 357.9,611.4 358.8,611.8 C359.8,612.2 360.7,612.6 361.6,613.0 C362.5,613.3 363.4,613.7 364.4,614.1 C365.3,614.5 366.2,614.9 367.1,615.3 C368.1,615.7 369.0,616.0 369.9,616.4 C370.8,616.8 371.8,617.2 372.7,617.6 C373.6,618.0 374.6,618.3 375.5,618.7 C376.4,619.1 377.3,619.5 378.3,619.9 C379.2,620.2 380.1,620.6 381.0,621.0 C382.0,621.4 382.9,621.7 383.8,622.1 C384.8,622.5 385.7,622.9 386.6,623.2 C387.6,623.6 388.5,624.0 389.4,624.4 C390.3,624.7 391.3,625.1 392.2,625.5 C393.1,625.8 394.1,626.2 395.0,626.6 C395.9,627.0 396.9,627.3 397.8,627.7 C398.7,628.1 399.7,628.4 400.6,628.8 C401.5,629.2 402.5,629.5 403.4,629.9 C404.3,630.3 405.3,630.6 406.2,631.0 C407.1,631.4 408.1,631.7 409.0,632.1 C409.9,632.5 410.9,632.8 411.8,633.2 C412.7,633.5 413.7,633.9 414.6,634.3 C415.5,634.6 416.5,635.0 417.4,635.4 C418.3,635.7 419.3,636.1 420.2,636.4 C421.1,636.8 422.1,637.2 423.0,637.5 C423.9,637.9 424.9,638.3 425.8,638.6 C426.8,639.0 427.7,639.3 428.6,639.7 C429.6,640.1 430.5,640.4 431.4,640.8 C432.4,641.1 433.3,641.5 434.2,641.8 C435.2,642.2 436.1,642.6 437.0,642.9 C438.0,643.3 438.9,643.6 439.9,644.0 C440.8,644.4 441.7,644.7 442.7,645.1 C443.6,645.4 444.5,645.8 445.5,646.1 C446.4,646.5 447.4,646.9 448.3,647.2 C449.2,647.6 450.2,647.9 451.1,648.3 C452.0,648.6 453.0,649.0 453.9,649.4 C454.9,649.7 455.8,650.1 456.7,650.4 C457.7,650.8 458.6,651.1 459.5,651.5 C460.5,651.8 461.4,652.2 462.4,652.6 C463.3,652.9 464.2,653.3 465.2,653.6 C466.1,654.0 467.0,654.3 468.0,654.7 C468.9,655.0 469.9,655.4 470.8,655.8 C471.7,656.1 472.7,656.5 473.6,656.8 C474.5,657.2 475.5,657.5 476.4,657.9 C477.4,658.2 478.3,658.6 479.2,659.0 C480.2,659.3 481.1,659.7 482.0,660.0 C483.0,660.4 483.9,660.7 484.9,661.1 C485.8,661.4 486.7,661.8 487.7,662.1 C488.6,662.5 489.6,662.8 490.5,663.2 C491.4,663.6 492.4,663.9 493.3,664.3 C494.2,664.6 495.2,665.0 496.1,665.3 C497.1,665.7 498.0,666.0 498.9,666.4 C499.9,666.7 500.8,667.1 501.8,667.4 C502.7,667.8 503.6,668.1 504.6,668.5 C505.5,668.8 506.4,669.2 507.4,669.6 C508.3,669.9 509.3,670.3 510.2,670.6 C511.1,671.0 512.1,671.3 513.0,671.7 C514.0,672.0 514.9,672.4 515.8,672.7 C516.8,673.1 517.7,673.4 518.6,673.8 C519.6,674.1 520.5,674.5 521.5,674.8 C522.4,675.2 523.3,675.5 524.3,675.9 C525.2,676.2 526.2,676.6 527.1,676.9 C528.0,677.3 529.0,677.6 529.9,678.0 C530.9,678.3 531.8,678.7 532.7,679.1 C533.7,679.4 534.6,679.8 535.5,680.1 C536.5,680.5 537.4,680.8 538.4,681.2 C539.3,681.5 540.2,681.9 541.2,682.2 C542.1,682.6 543.1,682.9 544.0,683.3 C544.9,683.6 545.9,684.0 546.8,684.3 C547.7,684.7 548.7,685.0 549.6,685.4 C550.6,685.7 551.5,686.1 552.4,686.4 C553.4,686.8 554.3,687.1 555.3,687.5 C556.2,687.8 557.1,688.2 558.1,688.5 C559.0,688.9 559.9,689.2 560.9,689.6 C561.8,689.9 562.8,690.3 563.7,690.6 C564.6,691.0 565.6,691.3 566.5,691.7 C567.5,692.0 568.4,692.4 569.3,692.7 C570.3,693.1 571.2,693.4 572.1,693.8 C573.1,694.1 574.0,694.5 575.0,694.8 C575.9,695.2 576.8,695.5 577.8,695.9 C578.7,696.2 579.6,696.6 580.6,696.9 C581.5,697.3 582.4,697.6 583.4,698.0 C584.3,698.3 585.2,698.7 586.1,699.0 C587.1,699.3 588.0,699.7 588.9,700.0 C589.8,700.4 590.8,700.7 591.7,701.1 C592.6,701.4 593.5,701.7 594.5,702.1 C595.4,702.4 596.3,702.7 597.2,703.1 C598.2,703.4 599.1,703.7 600.0,704.1 C600.9,704.4 601.9,704.7 602.8,705.1 C603.7,705.4 604.6,705.7 605.6,706.1 C606.5,706.4 607.4,706.7 608.4,707.1 C609.3,707.4 610.2,707.7 611.2,708.1 C612.1,708.4 613.0,708.7 614.0,709.1 C614.9,709.4 615.9,709.7 616.8,710.1 C617.7,710.4 618.7,710.7 619.6,711.1 C620.6,711.4 621.5,711.7 622.4,712.1 C623.4,712.4 624.3,712.7 625.3,713.0 C626.2,713.4 627.1,713.7 628.1,714.0 C629.0,714.4 630.0,714.7 630.9,715.0 C631.9,715.3 632.8,715.7 633.7,716.0 C634.7,716.3 635.6,716.6 636.6,716.9 C637.5,717.3 638.5,717.6 639.4,717.9 C640.4,718.2 641.3,718.5 642.2,718.9 C643.2,719.2 644.1,719.5 645.1,719.8 C646.0,720.1 647.0,720.5 647.9,720.8 C648.9,721.1 649.8,721.4 650.8,721.7 C651.7,722.0 652.7,722.4 653.6,722.7 C654.6,723.0 655.5,723.3 656.5,723.6 C657.4,723.9 658.4,724.2 659.3,724.5 C660.3,724.9 661.2,725.2 662.2,725.5 C663.1,725.8 664.1,726.1 665.0,726.4 C666.0,726.7 666.9,727.0 667.9,727.3 C668.8,727.6 669.8,727.9 670.8,728.2 C671.7,728.6 672.7,728.9 673.6,729.2 C674.6,729.5 675.5,729.8 676.5,730.1 C677.4,730.4 678.4,730.7 679.3,731.0 C680.3,731.3 681.3,731.6 682.2,731.9 C683.2,732.2 684.1,732.5 685.1,732.8 C686.0,733.1 687.0,733.4 688.0,733.7 C688.9,734.0 689.9,734.3 690.8,734.6 C691.8,734.9 692.7,735.2 693.7,735.5 C694.7,735.8 695.6,736.1 696.6,736.4 C697.5,736.7 698.5,737.0 699.4,737.3 C700.4,737.6 701.4,737.9 702.3,738.1 C703.3,738.4 704.2,738.7 705.2,739.0 C706.2,739.3 707.1,739.6 708.1,739.9 C709.0,740.2 710.0,740.5 711.0,740.8 C711.9,741.1 712.9,741.4 713.9,741.7 C714.8,741.9 715.8,742.2 716.7,742.5 C717.7,742.8 718.7,743.1 719.6,743.4 C720.6,743.7 721.5,744.0 722.5,744.2 C723.5,744.5 724.4,744.8 725.4,745.1 C726.4,745.4 727.3,745.7 728.3,746.0 C729.2,746.2 730.2,746.5 731.2,746.8 C732.1,747.1 733.1,747.4 734.1,747.7 C735.0,747.9 736.0,748.2 736.9,748.5 C737.9,748.8 738.9,749.1 739.8,749.4 C740.8,749.6 741.8,749.9 742.7,750.2 C743.7,750.5 744.7,750.8 745.6,751.0 C746.6,751.3 747.6,751.6 748.5,751.9 C749.5,752.2 750.4,752.4 751.4,752.7 C752.4,753.0 753.3,753.3 754.3,753.5 C755.3,753.8 756.2,754.1 757.2,754.4 C758.2,754.7 759.1,754.9 760.1,755.2 C761.1,755.5 762.0,755.8 763.0,756.0 C764.0,756.3 764.9,756.6 765.9,756.9 C766.8,757.1 767.8,757.4 768.8,757.7 C769.7,757.9 770.7,758.2 771.7,758.5 C772.6,758.8 773.6,759.0 774.6,759.3 C775.5,759.6 776.5,759.9 777.5,760.1 C778.4,760.4 779.4,760.7 780.4,760.9 C781.3,761.2 782.3,761.5 783.3,761.8 C784.2,762.0 785.2,762.3 786.2,762.6 C787.1,762.8 788.1,763.1 789.0,763.4 C790.0,763.7 791.0,763.9 791.9,764.2 C792.9,764.5 793.9,764.7 794.8,765.0 C795.8,765.3 796.8,765.5 797.7,765.8 C798.7,766.1 799.7,766.4 800.6,766.6 C801.6,766.9 802.6,767.2 803.5,767.4 C804.5,767.7 805.5,768.0 806.4,768.2 C807.4,768.5 808.4,768.8 809.3,769.1 C810.3,769.3 811.2,769.6 812.2,769.9 C813.2,770.1 814.1,770.4 815.1,770.7 C816.1,770.9 817.0,771.2 818.0,771.5 C819.0,771.8 819.9,772.0 820.9,772.3 C821.9,772.6 822.8,772.8 823.8,773.1 C824.7,773.4 825.7,773.7 826.7,773.9 C827.6,774.2 828.6,774.5 829.6,774.8 C830.5,775.0 831.5,775.3 832.5,775.6 C833.4,775.8 834.4,776.1 835.3,776.4 C836.3,776.7 837.3,776.9 838.2,777.2 C839.2,777.5 840.2,777.8 841.1,778.0 C842.1,778.3 843.1,778.6 844.0,778.9 C845.0,779.1 845.9,779.4 846.9,779.7 C847.9,780.0 848.8,780.3 849.8,780.5 C850.8,780.8 851.7,781.1 852.7,781.4 C853.6,781.6 854.6,781.9 855.6,782.2 C856.5,782.5 857.5,782.8 858.4,783.0 C859.4,783.3 860.4,783.6 861.3,783.9 C862.3,784.2 863.2,784.5 864.2,784.7 C865.2,785.0 866.1,785.3 867.1,785.6 C868.0,785.9 869.0,786.2 870.0,786.5 C870.9,786.7 871.9,787.0 872.8,787.3 C873.8,787.6 874.8,787.9 875.7,788.2 C876.7,788.5 877.6,788.8 878.6,789.0 C879.6,789.3 880.5,789.6 881.5,789.9 C882.4,790.2 883.4,790.5 884.4,790.8 C885.3,791.1 886.3,791.4 887.2,791.7 C888.2,792.0 889.1,792.3 890.1,792.6 C891.1,792.9 892.0,793.2 893.0,793.5 C893.9,793.8 894.9,794.1 895.8,794.4 C896.8,794.7 897.7,795.0 898.7,795.3 C899.7,795.6 900.6,795.9 901.6,796.2 C902.5,796.5 903.5,796.8 904.4,797.1 C905.4,797.4 906.3,797.7 907.3,798.0 C908.2,798.3 909.2,798.6 910.2,798.9 C911.1,799.2 912.1,799.6 913.0,799.9 C914.0,800.2 914.9,800.5 915.9,800.8 C916.8,801.1 917.8,801.4 918.7,801.7 C919.7,802.1 920.6,802.4 921.6,802.7 C922.5,803.0 923.5,803.3 924.4,803.7 C925.4,804.0 926.3,804.3 927.3,804.6 C928.2,804.9 929.2,805.3 930.1,805.6 C931.1,805.9 932.0,806.2 933.0,806.6 C933.9,806.9 934.9,807.2 935.8,807.5 C936.8,807.8 937.8,808.2 938.7,808.5 C939.7,808.8 940.6,809.1 941.6,809.4 C942.5,809.7 943.5,810.1 944.4,810.4 C945.4,810.7 946.3,811.0 947.3,811.3 C948.2,811.6 949.2,811.9 950.1,812.2 C951.1,812.5 952.1,812.8 953.0,813.1 C954.0,813.4 954.9,813.7 955.9,814.0 C956.9,814.3 957.8,814.6 958.8,814.9 C959.7,815.2 960.7,815.5 961.7,815.7 C962.6,816.0 963.6,816.3 964.6,816.6 C965.5,816.8 966.5,817.1 967.5,817.4 C968.4,817.6 969.4,817.9 970.4,818.1 C971.3,818.4 972.3,818.6 973.3,818.9 C974.3,819.1 975.2,819.4 976.2,819.6 C977.2,819.8 978.2,820.1 979.1,820.3 C980.1,820.5 981.1,820.7 982.1,821.0 C983.1,821.2 984.1,821.4 985.0,821.6 C986.0,821.8 987.0,821.9 988.0,822.1 C989.0,822.3 990.0,822.5 991.0,822.6 C992.0,822.8 993.0,822.9 993.9,823.1 C994.9,823.2 995.9,823.3 996.9,823.4 C997.9,823.5 998.9,823.6 999.9,823.7 C1000.9,823.8 1001.9,823.8 1002.9,823.9 C1003.8,823.9 1004.8,823.9 1005.8,823.9 C1006.8,823.9 1007.8,823.9 1008.8,823.9 C1009.8,823.8 1010.8,823.8 1011.7,823.7 C1012.7,823.6 1013.7,823.5 1014.7,823.4 C1015.7,823.3 1016.6,823.1 1017.6,823.0 C1018.6,822.8 1019.6,822.6 1020.5,822.3 C1021.5,822.1 1022.5,821.9 1023.4,821.6 C1024.4,821.3 1025.4,821.0 1026.3,820.7 C1027.3,820.4 1028.2,820.1 1029.2,819.7 C1030.2,819.4 1031.1,819.0 1032.1,818.6 C1033.0,818.3 1034.0,817.9 1034.9,817.5 C1035.9,817.1 1036.8,816.7 1037.8,816.3 C1038.7,815.9 1039.7,815.4 1040.6,815.0 C1041.6,814.6 1042.5,814.2 1043.5,813.8 C1044.4,813.4 1045.4,813.0 1046.3,812.6 C1047.2,812.2 1048.2,811.8 1049.1,811.4 C1050.1,811.1 1051.0,810.7 1052.0,810.3 C1053.0,810.0 1053.9,809.7 1054.9,809.4 C1055.8,809.1 1056.8,808.8 1057.8,808.6 C1058.7,808.3 1059.7,808.1 1060.7,807.9 C1061.7,807.8 1062.6,807.6 1063.6,807.5 C1064.6,807.4 1065.6,807.3 1066.6,807.3 C1067.6,807.2 1068.6,807.2 1069.6,807.3 C1070.6,807.3 1071.6,807.4 1072.5,807.5 C1073.5,807.6 1074.5,807.8 1075.5,808.0 C1076.5,808.2 1077.5,808.4 1078.4,808.7 C1079.4,809.0 1080.4,809.3 1081.3,809.6 C1082.3,809.9 1083.3,810.3 1084.2,810.7 C1085.1,811.1 1086.0,811.5 1087.0,811.9 C1087.9,812.3 1088.8,812.8 1089.6,813.3 C1090.5,813.8 1091.4,814.3 1092.2,814.8 C1093.1,815.3 1093.9,815.8 1094.7,816.4 C1095.5,816.9 1096.3,817.5 1097.1,818.0 C1097.9,818.6 1098.7,819.2 1099.5,819.8 C1100.2,820.4 1101.0,821.1 1101.7,821.7 C1102.5,822.4 1103.2,823.0 1103.9,823.7 C1104.6,824.3 1105.3,825.0 1106.0,825.7 C1106.7,826.4 1107.4,827.1 1108.1,827.8 C1108.8,828.5 1109.5,829.3 1110.1,830.0 C1110.8,830.7 1111.4,831.5 1112.1,832.2 C1112.7,833.0 1113.4,833.8 1114.0,834.5 C1114.6,835.3 1115.3,836.1 1115.9,836.9 C1116.5,837.6 1117.1,838.4 1117.8,839.2 C1118.4,840.0 1119.0,840.8 1119.6,841.7 C1120.2,842.5 1120.8,843.3 1121.4,844.1 C1122.0,844.9 1122.6,845.7 1123.2,846.6 C1123.8,847.4 1124.4,848.2 1125.0,849.0 C1125.6,849.9 1126.2,850.7 1126.8,851.5 C1127.4,852.4 1127.9,853.2 1128.5,854.0 C1129.1,854.8 1129.7,855.7 1130.3,856.5 C1130.9,857.3 1131.5,858.2 1132.1,859.0 C1132.7,859.8 1133.3,860.6 1133.9,861.5 C1134.5,862.3 1135.2,863.1 1135.8,863.9 C1136.4,864.7 1137.0,865.5 1137.6,866.3 C1138.3,867.1 1138.9,867.9 1139.5,868.7 C1140.2,869.5 1140.8,870.3 1141.5,871.1 C1142.1,871.9 1142.8,872.6 1143.4,873.4 C1144.1,874.1 1144.8,874.9 1145.5,875.6 C1146.1,876.4 1146.8,877.1 1147.5,877.8 C1148.2,878.6 1148.9,879.3 1149.6,880.0 C1150.4,880.7 1151.1,881.4 1151.8,882.1 C1152.6,882.7 1153.3,883.4 1154.1,884.1 C1154.8,884.7 1155.6,885.4 1156.3,886.0 C1157.1,886.6 1157.9,887.3 1158.7,887.9 C1159.4,888.5 1160.2,889.1 1161.0,889.7 C1161.8,890.3 1162.7,890.8 1163.5,891.4 C1164.3,892.0 1165.1,892.5 1166.0,893.0 C1166.8,893.6 1167.6,894.1 1168.5,894.6 C1169.4,895.1 1170.2,895.6 1171.1,896.0 C1172.0,896.5 1172.8,897.0 1173.7,897.4 C1174.6,897.8 1175.5,898.3 1176.4,898.7 C1177.3,899.1 1178.2,899.5 1179.2,899.8 C1180.1,900.2 1181.0,900.6 1181.9,900.9 C1182.9,901.3 1183.8,901.6 1184.8,901.9 C1185.7,902.2 1186.7,902.5 1187.6,902.8 C1188.6,903.1 1189.5,903.4 1190.5,903.7 C1191.5,904.0 1192.4,904.3 1193.4,904.5 C1194.4,904.8 1195.4,905.0 1196.3,905.3 C1197.3,905.5 1198.3,905.8 1199.3,906.0 C1200.2,906.2 1201.2,906.5 1202.2,906.7 C1203.2,906.9 1204.2,907.2 1205.1,907.4 C1206.1,907.6 1207.1,907.8 1208.1,908.0 C1209.1,908.3 1210.1,908.5 1211.0,908.7 C1212.0,908.9 1213.0,909.1 1214.0,909.3 C1215.0,909.5 1215.9,909.7 1216.9,909.9 C1217.9,910.1 1218.9,910.3 1219.9,910.5 C1220.9,910.7 1221.9,910.9 1222.8,911.1 C1223.8,911.2 1224.8,911.4 1225.8,911.6 C1226.8,911.8 1227.8,912.0 1228.7,912.2 C1229.7,912.4 1230.7,912.5 1231.7,912.7 C1232.7,912.9 1233.7,913.1 1234.7,913.3 C1235.6,913.5 1236.6,913.6 1237.6,913.8 C1238.6,914.0 1239.6,914.2 1240.6,914.4 C1241.6,914.5 1242.5,914.7 1243.5,914.9 C1244.5,915.1 1245.5,915.3 1246.5,915.4 C1247.5,915.6 1248.5,915.8 1249.4,916.0 C1250.4,916.2 1251.4,916.4 1252.4,916.5 C1253.4,916.7 1254.4,916.9 1255.4,917.1 C1256.3,917.3 1257.3,917.4 1258.3,917.6 C1259.3,917.8 1260.3,918.0 1261.3,918.2 C1262.3,918.4 1263.3,918.5 1264.2,918.7 C1265.2,918.9 1266.2,919.1 1267.2,919.3 C1268.2,919.4 1269.2,919.6 1270.2,919.8 C1271.1,920.0 1272.1,920.2 1273.1,920.3 C1274.1,920.5 1275.1,920.7 1276.1,920.9 C1277.1,921.1 1278.0,921.2 1279.0,921.4 C1280.0,921.6 1281.0,921.8 1282.0,922.0 C1283.0,922.1 1284.0,922.3 1284.9,922.5 C1285.9,922.7 1286.9,922.9 1287.9,923.0 C1288.9,923.2 1289.9,923.4 1290.9,923.6 C1291.8,923.8 1292.8,923.9 1293.8,924.1 C1294.8,924.3 1295.8,924.5 1296.8,924.6 C1297.8,924.8 1298.8,925.0 1299.7,925.2 C1300.7,925.4 1301.7,925.5 1302.7,925.7 C1303.7,925.9 1304.7,926.1 1305.7,926.2 C1306.7,926.4 1307.6,926.6 1308.6,926.8 C1309.6,926.9 1310.6,927.1 1311.6,927.3 C1312.6,927.5 1313.6,927.6 1314.5,927.8 C1315.5,928.0 1316.5,928.2 1317.5,928.3 C1318.5,928.5 1319.5,928.7 1320.5,928.8 C1321.5,929.0 1322.4,929.2 1323.4,929.4 C1324.4,929.5 1325.4,929.7 1326.4,929.9 C1327.4,930.0 1328.4,930.2 1329.4,930.4 C1330.4,930.5 1331.3,930.7 1332.3,930.9 C1333.3,931.0 1334.3,931.2 1335.3,931.4 C1336.3,931.5 1337.3,931.7 1338.3,931.9 C1339.2,932.0 1340.2,932.2 1341.2,932.4 C1342.2,932.5 1343.2,932.7 1344.2,932.9 C1345.2,933.0 1346.2,933.2 1347.2,933.3 C1348.1,933.5 1349.1,933.7 1350.1,933.8 C1351.1,934.0 1352.1,934.1 1353.1,934.3 C1354.1,934.5 1355.1,934.6 1356.1,934.8 C1357.1,934.9 1358.0,935.1 1359.0,935.2 C1360.0,935.4 1361.0,935.6 1362.0,935.7 C1363.0,935.9 1364.0,936.0 1365.0,936.2 C1366.0,936.3 1367.0,936.5 1367.9,936.6 C1368.9,936.8 1369.9,936.9 1370.9,937.1 C1371.9,937.2 1372.9,937.4 1373.9,937.5 C1374.9,937.7 1375.9,937.8 1376.9,938.0 C1377.9,938.1 1378.8,938.3 1379.8,938.4 C1380.8,938.6 1381.8,938.7 1382.8,938.8 C1383.8,939.0 1384.8,939.1 1385.8,939.3 C1386.8,939.4 1387.8,939.5 1388.8,939.7 C1389.8,939.8 1390.8,940.0 1391.7,940.1 C1392.7,940.2 1393.7,940.4 1394.7,940.5 C1395.7,940.6 1396.7,940.8 1397.7,940.9 C1398.7,941.0 1399.7,941.2 1400.7,941.3 C1401.7,941.4 1402.7,941.6 1403.7,941.7 C1404.7,941.8 1405.7,942.0 1406.6,942.1 C1407.6,942.2 1408.6,942.3 1409.6,942.5 C1410.6,942.6 1411.6,942.7 1412.6,942.8 C1413.6,943.0 1414.6,943.1 1415.6,943.2 C1416.6,943.3 1417.6,943.4 1418.6,943.6 C1419.6,943.7 1420.6,943.8 1421.6,943.9 C1422.6,944.0 1423.6,944.2 1424.6,944.3 C1425.5,944.4 1426.5,944.5 1427.5,944.6 C1428.5,944.7 1429.5,944.9 1430.5,945.0 C1431.5,945.1 1432.5,945.2 1433.5,945.3 C1434.5,945.4 1435.5,945.6 1436.5,945.7 C1437.5,945.8 1438.5,945.9 1439.5,946.0 C1440.5,946.1 1441.5,946.2 1442.5,946.3 C1443.5,946.4 1444.5,946.6 1445.5,946.7 C1446.5,946.8 1447.5,946.9 1448.5,947.0 C1449.5,947.1 1450.5,947.2 1451.4,947.3 C1452.4,947.4 1453.4,947.5 1454.4,947.7 C1455.4,947.8 1456.4,947.9 1457.4,948.0 C1458.4,948.1 1459.4,948.2 1460.4,948.3 C1461.4,948.4 1462.4,948.5 1463.4,948.6 C1464.4,948.7 1465.4,948.8 1466.4,948.9 C1467.4,949.1 1468.4,949.2 1469.4,949.3 C1470.4,949.4 1471.4,949.5 1472.4,949.6 C1473.4,949.7 1474.4,949.8 1475.4,949.9 C1476.4,950.0 1477.4,950.1 1478.4,950.2 C1479.4,950.3 1480.4,950.5 1481.4,950.6 C1482.3,950.7 1483.3,950.8 1484.3,950.9 C1485.3,951.0 1486.3,951.1 1487.3,951.2 C1488.3,951.3 1489.3,951.4 1490.3,951.5 C1491.3,951.6 1492.3,951.8 1493.3,951.9 C1494.3,952.0 1495.3,952.1 1496.3,952.2 C1497.3,952.3 1498.3,952.4 1499.3,952.5 C1500.3,952.6 1501.3,952.7 1502.3,952.9 C1503.3,953.0 1504.3,953.1 1505.3,953.2 C1506.3,953.3 1507.3,953.4 1508.3,953.5 C1509.3,953.7 1510.3,953.8 1511.2,953.9 C1512.2,954.0 1513.2,954.1 1514.2,954.2 C1515.2,954.3 1516.2,954.5 1517.2,954.6 C1518.2,954.7 1519.2,954.8 1520.2,954.9 C1521.2,955.1 1522.2,955.2 1523.2,955.3 C1524.2,955.4 1525.2,955.5 1526.2,955.7 C1527.2,955.8 1528.2,955.9 1529.2,956.0 C1530.2,956.1 1531.2,956.3 1532.1,956.4 C1533.1,956.5 1534.1,956.6 1535.1,956.8 C1536.1,956.9 1537.1,957.0 1538.1,957.1 C1539.1,957.3 1540.1,957.4 1541.1,957.5 C1542.1,957.7 1543.1,957.8 1544.1,957.9 C1545.1,958.0 1546.1,958.2 1547.1,958.3 C1548.1,958.4 1549.1,958.6 1550.0,958.7 C1551.0,958.8 1552.0,959.0 1553.0,959.1 C1554.0,959.2 1555.0,959.3 1556.0,959.5 C1557.0,959.6 1558.0,959.7 1559.0,959.9 C1560.0,960.0 1561.0,960.1 1562.0,960.3 C1563.0,960.4 1564.0,960.5 1565.0,960.7 C1565.9,960.8 1566.9,960.9 1567.9,961.1 C1568.9,961.2 1569.9,961.3 1570.9,961.5 C1571.9,961.6 1572.9,961.7 1573.9,961.9 C1574.9,962.0 1575.9,962.2 1576.9,962.3 C1577.9,962.4 1578.9,962.6 1579.9,962.7 C1580.8,962.8 1581.8,963.0 1582.8,963.1 C1583.8,963.2 1584.8,963.4 1585.8,963.5 C1586.8,963.6 1587.8,963.8 1588.8,963.9 C1589.8,964.1 1590.8,964.2 1591.8,964.3 C1592.8,964.5 1593.8,964.6 1594.7,964.7 C1595.7,964.9 1596.7,965.0 1597.7,965.1 C1598.7,965.3 1599.7,965.4 1600.7,965.6 C1601.7,965.7 1602.7,965.8 1603.7,966.0 C1604.7,966.1 1605.7,966.2 1606.7,966.4 C1607.7,966.5 1608.7,966.6 1609.6,966.8 C1610.6,966.9 1611.6,967.1 1612.6,967.2 C1613.6,967.3 1614.6,967.5 1615.6,967.6 C1616.6,967.7 1617.6,967.9 1618.6,968.0 C1619.6,968.1 1620.6,968.3 1621.6,968.4 C1622.6,968.5 1623.5,968.7 1624.5,968.8 C1625.5,968.9 1626.5,969.1 1627.5,969.2 C1628.5,969.3 1629.5,969.5 1630.5,969.6 C1631.5,969.7 1632.5,969.9 1633.5,970.0 C1634.5,970.1 1635.5,970.3 1636.5,970.4 C1637.5,970.5 1638.5,970.6 1639.4,970.8 C1640.4,970.9 1641.4,971.0 1642.4,971.2 C1643.4,971.3 1644.4,971.4 1645.4,971.5 C1646.4,971.7 1647.4,971.8 1648.4,971.9 C1649.4,972.1 1650.4,972.2 1651.4,972.3 C1652.4,972.4 1653.4,972.6 1654.4,972.7 C1655.4,972.8 1656.3,972.9 1657.3,973.1 C1658.3,973.2 1659.3,973.3 1660.3,973.4 C1661.3,973.6 1662.3,973.7 1663.3,973.8 C1664.3,973.9 1665.3,974.0 1666.3,974.2 C1667.3,974.3 1668.3,974.4 1669.3,974.5 C1670.3,974.7 1671.3,974.8 1672.3,974.9 C1673.3,975.0 1674.3,975.1 1675.3,975.3 C1676.2,975.4 1677.2,975.5 1678.2,975.6 C1679.2,975.7 1680.2,975.9 1681.2,976.0 C1682.2,976.1 1683.2,976.2 1684.2,976.3 C1685.2,976.5 1686.2,976.6 1687.2,976.7 C1688.2,976.8 1689.2,976.9 1690.2,977.0 C1691.2,977.2 1692.2,977.3 1693.2,977.4 C1694.2,977.5 1695.2,977.6 1696.2,977.7 C1697.1,977.9 1698.1,978.0 1699.1,978.1 C1700.1,978.2 1701.1,978.3 1702.1,978.4 C1703.1,978.5 1704.1,978.7 1705.1,978.8 C1706.1,978.9 1707.1,979.0 1708.1,979.1 C1709.1,979.2 1710.1,979.3 1711.1,979.5 C1712.1,979.6 1713.1,979.7 1714.1,979.8 C1715.1,979.9 1716.1,980.0 1717.1,980.1 C1718.1,980.3 1719.1,980.4 1720.1,980.5 C1721.1,980.6 1722.0,980.7 1723.0,980.8 C1724.0,980.9 1725.0,981.0 1726.0,981.1 C1727.0,981.3 1728.0,981.4 1729.0,981.5 C1730.0,981.6 1731.0,981.7 1732.0,981.8 C1733.0,981.9 1734.0,982.0 1735.0,982.1 C1736.0,982.3 1737.0,982.4 1738.0,982.5 C1739.0,982.6 1740.0,982.7 1741.0,982.8 C1742.0,982.9 1743.0,983.0 1744.0,983.1 C1745.0,983.3 1746.0,983.4 1747.0,983.5 C1748.0,983.6 1748.9,983.7 1749.9,983.8 C1750.9,983.9 1751.9,984.0 1752.9,984.1 C1753.9,984.2 1754.9,984.3 1755.9,984.5 C1756.9,984.6 1757.9,984.7 1758.9,984.8 C1759.9,984.9 1760.9,985.0 1761.9,985.1 C1762.9,985.2 1763.9,985.3 1764.9,985.4 C1765.9,985.5 1766.9,985.7 1767.9,985.8 C1768.9,985.9 1769.9,986.0 1770.9,986.1 C1771.9,986.2 1772.9,986.3 1773.9,986.4 C1774.9,986.5 1775.9,986.6 1776.8,986.7 C1777.8,986.9 1778.8,987.0 1779.8,987.1 C1780.8,987.2 1781.8,987.3 1782.8,987.4 C1783.8,987.5 1784.8,987.6 1785.8,987.7 C1786.8,987.8 1787.8,987.9 1788.8,988.1 C1789.8,988.2 1790.8,988.3 1791.8,988.4 C1792.8,988.5 1793.8,988.6 1794.8,988.7 C1795.8,988.8 1796.8,988.9 1797.8,989.0 C1798.8,989.1 1799.8,989.3 1800.8,989.4 C1801.8,989.5 1802.8,989.6 1803.8,989.7 C1804.8,989.8 1805.7,989.9 1806.7,990.0 C1807.7,990.1 1808.7,990.2 1809.7,990.4 C1810.7,990.5 1811.7,990.6 1812.7,990.7 C1813.7,990.8 1814.7,990.9 1815.7,991.0 C1816.7,991.1 1817.7,991.2 1818.7,991.3 C1819.7,991.5 1820.7,991.6 1821.7,991.7 C1822.7,991.8 1823.7,991.9 1824.7,992.0 C1825.7,992.1 1826.7,992.2 1827.7,992.4 C1828.7,992.5 1829.7,992.6 1830.7,992.7 C1831.7,992.8 1832.7,992.9 1833.6,993.0 C1834.6,993.1 1835.6,993.2 1836.6,993.4 C1837.6,993.5 1838.6,993.6 1839.6,993.7 C1840.6,993.8 1841.6,993.9 1842.6,994.0 C1843.6,994.2 1844.6,994.3 1845.6,994.4 C1846.6,994.5 1847.6,994.6 1848.6,994.7 C1849.6,994.8 1850.6,995.0 1851.6,995.1 C1852.6,995.2 1853.6,995.3 1854.6,995.4 C1855.6,995.5 1856.6,995.7 1857.5,995.8 C1858.5,995.9 1859.5,996.0 1860.5,996.1 C1861.5,996.2 1862.5,996.4 1863.5,996.5 C1864.5,996.6 1865.5,996.7 1866.5,996.8 C1867.5,996.9 1868.5,997.1 1869.5,997.2 C1870.5,997.3 1871.5,997.4 1872.5,997.5 C1873.5,997.7 1874.5,997.8 1875.5,997.9 C1876.5,998.0 1877.5,998.1 1878.5,998.3 C1879.4,998.4 1880.4,998.5 1881.4,998.6 C1882.4,998.7 1883.4,998.9 1884.4,999.0 C1885.4,999.1 1886.4,999.2 1887.4,999.3 C1888.4,999.5 1889.4,999.6 1890.4,999.7 C1891.4,999.8 1892.4,1000.0 1893.4,1000.1 C1894.4,1000.2 1895.4,1000.3 1896.4,1000.5 C1897.4,1000.6 1898.4,1000.7 1899.3,1000.8 C1900.3,1000.9 1901.3,1001.1 1902.3,1001.2 C1903.3,1001.3 1904.3,1001.4 1905.3,1001.6 C1906.3,1001.7 1907.3,1001.8 1908.3,1001.9 C1909.3,1002.1 1910.3,1002.2 1911.3,1002.3 C1912.3,1002.4 1913.3,1002.6 1914.3,1002.7 C1915.3,1002.8 1916.3,1002.9 1917.3,1003.0 C1918.3,1003.2 1919.2,1003.3 1920.2,1003.4 C1921.2,1003.5 1922.2,1003.7 1923.2,1003.8 C1924.2,1003.9 1925.2,1004.0 1926.2,1004.1 C1927.2,1004.3 1928.2,1004.4 1929.2,1004.5 C1930.2,1004.6 1931.2,1004.7 1932.2,1004.9 C1933.2,1005.0 1934.2,1005.1 1935.2,1005.2 C1936.2,1005.3 1937.2,1005.4 1938.2,1005.6 C1939.1,1005.7 1940.1,1005.8 1941.1,1005.9 C1942.1,1006.0 1943.1,1006.1 1944.1,1006.3 C1945.1,1006.4 1946.1,1006.5 1947.1,1006.6 C1948.1,1006.7 1949.1,1006.8 1950.1,1006.9 C1951.1,1007.0 1952.1,1007.2 1953.1,1007.3 C1954.1,1007.4 1955.1,1007.5 1956.1,1007.6 C1957.1,1007.7 1958.1,1007.8 1959.1,1007.9 C1960.1,1008.0 1961.1,1008.1 1962.1,1008.2 C1963.1,1008.3 1964.1,1008.4 1965.0,1008.5 C1966.0,1008.6 1967.0,1008.7 1968.0,1008.8 C1969.0,1008.9 1970.0,1009.0 1971.0,1009.1 C1972.0,1009.2 1973.0,1009.3 1974.0,1009.4 C1975.0,1009.5 1976.0,1009.6 1977.0,1009.7 C1978.0,1009.8 1979.0,1009.9 1980.0,1010.0 C1981.0,1010.1 1982.0,1010.2 1983.0,1010.3 C1984.0,1010.4 1985.0,1010.5 1986.0,1010.5 C1987.0,1010.6 1988.0,1010.7 1989.0,1010.8 C1990.0,1010.9 1991.0,1011.0 1992.0,1011.0 C1993.0,1011.1 1994.0,1011.2 1995.0,1011.3 C1996.0,1011.4 1997.0,1011.4 1998.0,1011.5 C1999.0,1011.6 2000.0,1011.7 2001.0,1011.7 C2002.0,1011.8 2003.0,1011.9 2004.0,1012.0 C2005.0,1012.0 2006.0,1012.1 2007.0,1012.2 C2008.0,1012.2 2009.0,1012.3 2010.0,1012.4 C2011.0,1012.4 2012.0,1012.5 2013.0,1012.5" stroke="#f00"/>
<path d="M204.5,522.1 C204.6,523.1 204.7,524.1 204.8,525.0 C204.9,526.0 205.0,527.0 205.1,528.0 C205.2,529.0 205.3,530.0 205.4,530.9 C205.5,531.9 205.6,532.9 205.7,533.9 C205.8,534.9 205.9,535.9 206.0,536.9 C206.1,537.8 206.2,538.8 206.3,539.8 C206.4,540.8 206.5,541.8 206.6,542.8 C206.7,543.8 206.9,544.8 207.0,545.8 C207.1,546.8 207.2,547.7 207.3,548.7 C207.4,549.7 207.6,550.7 207.7,551.7 C207.8,552.7 207.9,553.7 208.0,554.7 C208.2,555.7 208.3,556.7 208.4,557.7 C208.6,558.7 208.7,559.6 208.8,560.6 C209.0,561.6 209.1,562.6 209.2,563.6 C209.4,564.6 209.5,565.6 209.6,566.6 C209.8,567.6 209.9,568.6 210.1,569.6 C210.2,570.6 210.4,571.6 210.5,572.6 C210.7,573.6 210.8,574.6 211.0,575.5 C211.1,576.5 211.3,577.5 211.4,578.5 C211.6,579.5 211.8,580.5 211.9,581.5 C212.1,582.5 212.2,583.5 212.4,584.5 C212.6,585.5 212.8,586.5 212.9,587.5 C213.1,588.5 213.3,589.5 213.5,590.4 C213.6,591.4 213.8,592.4 214.0,593.4 C214.2,594.4 214.4,595.4 214.6,596.4 C214.7,597.4 214.9,598.4 215.1,599.4 C215.3,600.3 215.5,601.3 215.7,602.3 C215.9,603.3 216.1,604.3 216.3,605.3 C216.5,606.3 216.7,607.3 217.0,608.2 C217.2,609.2 217.4,610.2 217.6,611.2 C217.8,612.2 218.0,613.2 218.3,614.1 C218.5,615.1 218.7,616.1 218.9,617.1 C219.2,618.1 219.4,619.1 219.6,620.0 C219.9,621.0 220.1,622.0 220.4,623.0 C220.6,623.9 220.8,624.9 221.1,625.9 C221.3,626.9 221.6,627.8 221.9,628.8 C222.1,629.8 222.4,630.8 222.6,631.7 C222.9,632.7 223.2,633.7 223.4,634.6 C223.7,635.6 224.0,636.6 224.2,637.5 C224.5,638.5 224.8,639.5 225.1,640.4 C225.4,641.4 225.6,642.4 225.9,643.3 C226.2,644.3 226.5,645.3 226.8,646.2 C227.1,647.2 227.4,648.1 227.7,649.1 C228.0,650.0 228.3,651.0 228.6,652.0 C229.0,652.9 229.3,653.9 229.6,654.8 C229.9,655.8 230.2,656.7 230.6,657.7 C230.9,658.6 231.2,659.5 231.6,660.5 C231.9,661.4 232.2,662.4 232.6,663.3 C232.9,664.3 233.3,665.2 233.6,666.1 C234.0,667.1 234.3,668.0 234.7,668.9 C235.0,669.9 235.4,670.8 235.8,671.7 C236.1,672.7 236.5,673.6 236.9,674.5 C237.3,675.4 237.6,676.4 238.0,677.3 C238.4,678.2 238.8,679.1 239.2,680.1 C239.6,681.0 240.0,681.9 240.4,682.8 C240.8,683.7 241.2,684.6 241.6,685.5 C242.0,686.5 242.4,687.4 242.8,688.3 C243.3,689.2 243.7,690.1 244.1,691.0 C244.5,691.9 245.0,692.8 245.4,693.7 C245.9,694.6 246.3,695.5 246.7,696.4 C247.2,697.3 247.6,698.1 248.1,699.0 C248.6,699.9 249.0,700.8 249.5,701.7 C249.9,702.6 250.4,703.5 250.9,704.3 C251.4,705.2 251.9,706.1 252.3,707.0 C252.8,707.8 253.3,708.7 253.8,709.6 C254.3,710.4 254.8,711.3 255.3,712.2 C255.8,713.0 256.3,713.9 256.8,714.7 C257.4,715.6 257.9,716.5 258.4,717.3 C258.9,718.2 259.5,719.0 260.0,719.9 C260.5,720.7 261.1,721.6 261.6,722.4 C262.2,723.2 262.7,724.1 263.3,724.9 C263.8,725.7 264.4,726.6 265.0,727.4 C265.5,728.2 266.1,729.1 266.7,729.9 C267.3,730.7 267.8,731.5 268.4,732.3 C269.0,733.1 269.6,734.0 270.2,734.8 C270.8,735.6 271.4,736.4 272.0,737.2 C272.6,738.0 273.2,738.8 273.8,739.6 C274.5,740.4 275.1,741.2 275.7,741.9 C276.3,742.7 277.0,743.5 277.6,744.3 C278.2,745.1 278.9,745.8 279.5,746.6 C280.2,747.4 280.8,748.1 281.5,748.9 C282.1,749.7 282.8,750.4 283.5,751.2 C284.1,751.9 284.8,752.7 285.5,753.4 C286.1,754.2 286.8,754.9 287.5,755.6 C288.2,756.4 288.9,757.1 289.6,757.8 C290.3,758.6 291.0,759.3 291.7,760.0 C292.4,760.7 293.1,761.4 293.8,762.1 C294.5,762.8 295.2,763.5 295.9,764.2 C296.7,764.9 297.4,765.6 298.1,766.3 C298.9,767.0 299.6,767.7 300.3,768.3 C301.1,769.0 301.8,769.7 302.6,770.3 C303.3,771.0 304.1,771.7 304.8,772.3 C305.6,773.0 306.3,773.6 307.1,774.3 C307.9,774.9 308.6,775.5 309.4,776.2 C310.2,776.8 311.0,777.4 311.7,778.1 C312.5,778.7 313.3,779.3 314.1,779.9 C314.9,780.5 315.7,781.1 316.5,781.8 C317.3,782.4 318.1,783.0 318.9,783.6 C319.7,784.2 320.5,784.8 321.3,785.3 C322.1,785.9 322.9,786.5 323.7,787.1 C324.5,787.7 325.3,788.3 326.2,788.8 C327.0,789.4 327.8,790.0 328.6,790.6 C329.5,791.1 330.3,791.7 331.1,792.3 C331.9,792.8 332.8,793.4 333.6,793.9 C334.5,794.5 335.3,795.0 336.1,795.6 C337.0,796.1 337.8,796.7 338.7,797.2 C339.5,797.8 340.4,798.3 341.2,798.8 C342.0,799.4 342.9,799.9 343.8,800.4 C344.6,801.0 345.5,801.5 346.3,802.0 C347.2,802.5 348.0,803.1 348.9,803.6 C349.7,804.1 350.6,804.6 351.5,805.1 C352.3,805.6 353.2,806.2 354.1,806.7 C354.9,807.2 355.8,807.7 356.7,808.2 C357.5,808.7 358.4,809.2 359.3,809.7 C360.1,810.2 361.0,810.7 361.9,811.2 C362.7,811.7 363.6,812.2 364.5,812.7 C365.4,813.2 366.2,813.7 367.1,814.2 C368.0,814.7 368.8,815.2 369.7,815.7 C370.6,816.1 371.5,816.6 372.4,817.1 C373.2,817.6 374.1,818.1 375.0,818.6 C375.9,819.0 376.7,819.5 377.6,820.0 C378.5,820.5 379.4,821.0 380.3,821.4 C381.1,821.9 382.0,822.4 382.9,822.9 C383.8,823.3 384.7,823.8 385.6,824.3 C386.4,824.7 387.3,825.2 388.2,825.7 C389.1,826.1 390.0,826.6 390.9,827.1 C391.8,827.5 392.7,828.0 393.5,828.5 C394.4,828.9 395.3,829.4 396.2,829.8 C397.1,830.3 398.0,830.8 398.9,831.2 C399.8,831.7 400.7,832.1 401.6,832.6 C402.5,833.0 403.3,833.5 404.2,833.9 C405.1,834.4 406.0,834.8 406.9,835.3 C407.8,835.7 408.7,836.2 409.6,836.6 C410.5,837.1 411.4,837.5 412.3,837.9 C413.2,838.4 414.1,838.8 415.0,839.3 C415.9,839.7 416.8,840.2 417.7,840.6 C418.6,841.0 419.5,841.5 420.4,841.9 C421.3,842.3 422.2,842.8 423.1,843.2 C424.0,843.6 424.9,844.1 425.8,844.5 C426.7,844.9 427.6,845.4 428.5,845.8 C429.4,846.2 430.3,846.6 431.2,847.1 C432.2,847.5 433.1,847.9 434.0,848.4 C434.9,848.8 435.8,849.2 436.7,849.6 C437.6,850.0 438.5,850.5 439.4,850.9 C440.3,851.3 441.2,851.7 442.1,852.2 C443.0,852.6 444.0,853.0 444.9,853.4 C445.8,853.8 446.7,854.2 447.6,854.7 C448.5,855.1 449.4,855.5 450.3,855.9 C451.3,856.3 452.2,856.7 453.1,857.2 C454.0,857.6 454.9,858.0 455.8,858.4 C456.7,858.8 457.6,859.2 458.6,859.6 C459.5,860.0 460.4,860.4 461.3,860.8 C462.2,861.3 463.1,861.7 464.0,862.1 C465.0,862.5 465.9,862.9 466.8,863.3 C467.7,863.7 468.6,864.1 469.5,864.5 C470.5,864.9 471.4,865.3 472.3,865.7 C473.2,866.1 474.1,866.5 475.1,866.9 C476.0,867.3 476.9,867.7 477.8,868.1 C478.7,868.5 479.7,868.9 480.6,869.3 C481.5,869.7 482.4,870.1 483.3,870.5 C484.3,870.9 485.2,871.3 486.1,871.7 C487.0,872.1 487.9,872.5 488.9,872.9 C489.8,873.3 490.7,873.7 491.6,874.1 C492.5,874.5 493.5,874.9 494.4,875.3 C495.3,875.7 496.2,876.1 497.2,876.5 C498.1,876.9 499.0,877.3 499.9,877.7 C500.9,878.1 501.8,878.5 502.7,878.9 C503.6,879.2 504.6,879.6 505.5,880.0 C506.4,880.4 507.3,880.8 508.3,881.2 C509.2,881.6 510.1,882.0 511.0,882.3 C512.0,882.7 512.9,883.1 513.8,883.5 C514.7,883.9 515.7,884.3 516.6,884.7 C517.5,885.0 518.5,885.4 519.4,885.8 C520.3,886.2 521.2,886.5 522.2,886.9 C523.1,887.3 524.0,887.7 525.0,888.1 C525.9,888.4 526.8,888.8 527.8,889.2 C528.7,889.6 529.6,889.9 530.5,890.3 C531.5,890.7 532.4,891.0 533.3,891.4 C534.3,891.8 535.2,892.1 536.1,892.5 C537.1,892.9 538.0,893.2 538.9,893.6 C539.9,894.0 540.8,894.3 541.8,894.7 C542.7,895.0 543.6,895.4 544.6,895.8 C545.5,896.1 546.4,896.5 547.4,896.8 C548.3,897.2 549.3,897.5 550.2,897.9 C551.1,898.2 552.1,898.6 553.0,898.9 C553.9,899.3 554.9,899.6 555.8,900.0 C556.8,900.3 557.7,900.7 558.6,901.0 C559.6,901.3 560.5,901.7 561.5,902.0 C562.4,902.4 563.4,902.7 564.3,903.0 C565.2,903.4 566.2,903.7 567.1,904.0 C568.1,904.4 569.0,904.7 570.0,905.0 C570.9,905.4 571.9,905.7 572.8,906.0 C573.8,906.3 574.7,906.7 575.7,907.0 C576.6,907.3 577.5,907.6 578.5,907.9 C579.4,908.2 580.4,908.6 581.3,908.9 C582.3,909.2 583.2,909.5 584.2,909.8 C585.1,910.1 586.1,910.4 587.1,910.7 C588.0,911.0 589.0,911.3 589.9,911.6 C590.9,911.9 591.8,912.2 592.8,912.5 C593.7,912.8 594.7,913.1 595.6,913.4 C596.6,913.7 597.6,914.0 598.5,914.3 C599.5,914.6 600.4,914.9 601.4,915.2 C602.3,915.4 603.3,915.7 604.3,916.0 C605.2,916.3 606.2,916.6 607.1,916.8 C608.1,917.1 609.1,917.4 610.0,917.6 C611.0,917.9 612.0,918.2 612.9,918.5 C613.9,918.7 614.8,919.0 615.8,919.3 C616.8,919.5 617.7,919.8 618.7,920.0 C619.7,920.3 620.6,920.6 621.6,920.8 C622.6,921.1 623.5,921.3 624.5,921.6 C625.5,921.8 626.4,922.1 627.4,922.3 C628.4,922.6 629.3,922.8 630.3,923.1 C631.3,923.3 632.3,923.5 633.2,923.8 C634.2,924.0 635.2,924.3 636.1,924.5 C637.1,924.7 638.1,925.0 639.1,925.2 C640.0,925.4 641.0,925.7 642.0,925.9 C642.9,926.1 643.9,926.4 644.9,926.6 C645.9,926.8 646.8,927.1 647.8,927.3 C648.8,927.5 649.8,927.7 650.7,928.0 C651.7,928.2 652.7,928.4 653.7,928.6 C654.6,928.8 655.6,929.1 656.6,929.3 C657.6,929.5 658.6,929.7 659.5,929.9 C660.5,930.1 661.5,930.4 662.5,930.6 C663.4,930.8 664.4,931.0 665.4,931.2 C666.4,931.4 667.4,931.6 668.3,931.8 C669.3,932.0 670.3,932.2 671.3,932.4 C672.3,932.7 673.2,932.9 674.2,933.1 C675.2,933.3 676.2,933.5 677.2,933.7 C678.2,933.9 679.1,934.1 680.1,934.3 C681.1,934.5 682.1,934.7 683.1,934.9 C684.0,935.1 685.0,935.3 686.0,935.5 C687.0,935.7 688.0,935.9 689.0,936.0 C689.9,936.2 690.9,936.4 691.9,936.6 C692.9,936.8 693.9,937.0 694.9,937.2 C695.9,937.4 696.8,937.6 697.8,937.8 C698.8,938.0 699.8,938.2 700.8,938.4 C701.8,938.5 702.7,938.7 703.7,938.9 C704.7,939.1 705.7,939.3 706.7,939.5 C707.7,939.7 708.7,939.9 709.6,940.0 C710.6,940.2 711.6,940.4 712.6,940.6 C713.6,940.8 714.6,941.0 715.6,941.2 C716.5,941.3 717.5,941.5 718.5,941.7 C719.5,941.9 720.5,942.1 721.5,942.3 C722.5,942.5 723.5,942.6 724.4,942.8 C725.4,943.0 726.4,943.2 727.4,943.4 C728.4,943.6 729.4,943.7 730.4,943.9 C731.4,944.1 732.3,944.3 733.3,944.5 C734.3,944.7 735.3,944.8 736.3,945.0 C737.3,945.2 738.3,945.4 739.2,945.6 C740.2,945.8 741.2,945.9 742.2,946.1 C743.2,946.3 744.2,946.5 745.2,946.7 C746.2,946.9 747.1,947.0 748.1,947.2 C749.1,947.4 750.1,947.6 751.1,947.8 C752.1,948.0 753.1,948.1 754.1,948.3 C755.0,948.5 756.0,948.7 757.0,948.9 C758.0,949.1 759.0,949.3 760.0,949.4 C761.0,949.6 761.9,949.8 762.9,950.0 C763.9,950.2 764.9,950.4 765.9,950.6 C766.9,950.8 767.9,951.0 768.8,951.1 C769.8,951.3 770.8,951.5 771.8,951.7 C772.8,951.9 773.8,952.1 774.8,952.3 C775.7,952.5 776.7,952.7 777.7,952.9 C778.7,953.1 779.7,953.3 780.7,953.4 C781.6,953.6 782.6,953.8 783.6,954.0 C784.6,954.2 785.6,954.4 786.6,954.6 C787.6,954.8 788.5,955.0 789.5,955.2 C790.5,955.4 791.5,955.6 792.5,955.8 C793.4,956.0 794.4,956.2 795.4,956.4 C796.4,956.6 797.4,956.8 798.4,957.0 C799.3,957.2 800.3,957.5 801.3,957.7 C802.3,957.9 803.3,958.1 804.2,958.3 C805.2,958.5 806.2,958.7 807.2,958.9 C808.2,959.1 809.1,959.3 810.1,959.6 C811.1,959.8 812.1,960.0 813.1,960.2 C814.0,960.4 815.0,960.6 816.0,960.9 C817.0,961.1 817.9,961.3 818.9,961.5 C819.9,961.7 820.9,962.0 821.9,962.2 C822.8,962.4 823.8,962.6 824.8,962.8 C825.8,963.1 826.7,963.3 827.7,963.5 C828.7,963.7 829.7,964.0 830.6,964.2 C831.6,964.4 832.6,964.7 833.6,964.9 C834.5,965.1 835.5,965.4 836.5,965.6 C837.5,965.8 838.4,966.1 839.4,966.3 C840.4,966.5 841.3,966.8 842.3,967.0 C843.3,967.2 844.3,967.5 845.2,967.7 C846.2,968.0 847.2,968.2 848.2,968.4 C849.1,968.7 850.1,968.9 851.1,969.2 C852.0,969.4 853.0,969.7 854.0,969.9 C855.0,970.1 855.9,970.4 856.9,970.6 C857.9,970.9 858.8,971.1 859.8,971.4 C860.8,971.6 861.7,971.9 862.7,972.1 C863.7,972.4 864.6,972.6 865.6,972.9 C866.6,973.2 867.6,973.4 868.5,973.7 C869.5,973.9 870.5,974.2 871.4,974.4 C872.4,974.7 873.4,975.0 874.3,975.2 C875.3,975.5 876.3,975.7 877.2,976.0 C878.2,976.3 879.2,976.5 880.1,976.8 C881.1,977.1 882.0,977.3 883.0,977.6 C884.0,977.9 884.9,978.1 885.9,978.4 C886.9,978.7 887.8,978.9 888.8,979.2 C889.8,979.5 890.7,979.7 891.7,980.0 C892.7,980.3 893.6,980.6 894.6,980.8 C895.5,981.1 896.5,981.4 897.5,981.7 C898.4,981.9 899.4,982.2 900.4,982.5 C901.3,982.8 902.3,983.1 903.2,983.3 C904.2,983.6 905.2,983.9 906.1,984.2 C907.1,984.5 908.0,984.8 909.0,985.0 C910.0,985.3 910.9,985.6 911.9,985.9 C912.8,986.2 913.8,986.5 914.8,986.8 C915.7,987.1 916.7,987.4 917.6,987.6 C918.6,987.9 919.6,988.2 920.5,988.5 C921.5,988.8 922.4,989.1 923.4,989.4 C924.3,989.7 925.3,990.0 926.3,990.3 C927.2,990.6 928.2,990.9 929.1,991.2 C930.1,991.5 931.0,991.8 932.0,992.1 C932.9,992.4 933.9,992.7 934.9,993.0 C935.8,993.3 936.8,993.6 937.7,993.9 C938.7,994.2 939.6,994.5 940.6,994.8 C941.5,995.1 942.5,995.4 943.5,995.7 C944.4,996.0 945.4,996.3 946.3,996.7 C947.3,997.0 948.2,997.3 949.2,997.6 C950.1,997.9 951.1,998.2 952.1,998.5 C953.0,998.8 954.0,999.1 954.9,999.4 C955.9,999.7 956.8,1000.0 957.8,1000.3 C958.7,1000.6 959.7,1000.9 960.6,1001.2 C961.6,1001.5 962.6,1001.8 963.5,1002.1 C964.5,1002.5 965.4,1002.8 966.4,1003.1 C967.3,1003.4 968.3,1003.7 969.3,1004.0 C970.2,1004.3 971.2,1004.6 972.1,1004.9 C973.1,1005.2 974.0,1005.5 975.0,1005.8 C975.9,1006.1 976.9,1006.4 977.9,1006.7 C978.8,1007.0 979.8,1007.3 980.7,1007.6 C981.7,1007.9 982.6,1008.2 983.6,1008.5 C984.6,1008.8 985.5,1009.1 986.5,1009.3 C987.4,1009.6 988.4,1009.9 989.4,1010.2 C990.3,1010.5 991.3,1010.8 992.2,1011.1 C993.2,1011.4 994.2,1011.7 995.1,1012.0 C996.1,1012.2 997.0,1012.5 998.0,1012.8 C999.0,1013.1 999.9,1013.4 1000.9,1013.7 C1001.8,1013.9 1002.8,1014.2 1003.8,1014.5 C1004.7,1014.8 1005.7,1015.0 1006.7,1015.3 C1007.6,1015.6 1008.6,1015.8 1009.6,1016.1 C1010.5,1016.4 1011.5,1016.6 1012.5,1016.8 C1013.4,1017.1 1014.4,1017.3 1015.4,1017.6 C1016.3,1017.8 1017.3,1018.0 1018.3,1018.2 C1019.3,1018.4 1020.2,1018.6 1021.2,1018.8 C1022.2,1019.0 1023.2,1019.2 1024.2,1019.3 C1025.1,1019.5 1026.1,1019.7 1027.1,1019.8 C1028.1,1019.9 1029.1,1020.1 1030.1,1020.2 C1031.0,1020.3 1032.0,1020.4 1033.0,1020.4 C1034.0,1020.5 1035.0,1020.6 1036.0,1020.6 C1037.0,1020.7 1038.0,1020.7 1039.0,1020.7 C1040.0,1020.7 1041.0,1020.7 1042.0,1020.7 C1043.0,1020.6 1044.0,1020.6 1045.0,1020.5 C1046.0,1020.4 1047.1,1020.4 1048.1,1020.3 C1049.1,1020.2 1050.1,1020.1 1051.1,1020.0 C1052.1,1019.8 1053.1,1019.7 1054.1,1019.6 C1055.1,1019.5 1056.2,1019.3 1057.2,1019.2 C1058.2,1019.1 1059.2,1018.9 1060.2,1018.8 C1061.2,1018.6 1062.2,1018.5 1063.2,1018.4 C1064.2,1018.2 1065.2,1018.1 1066.2,1018.0 C1067.2,1017.8 1068.2,1017.7 1069.2,1017.6 C1070.2,1017.5 1071.2,1017.4 1072.2,1017.3 C1073.2,1017.2 1074.2,1017.1 1075.2,1017.0 C1076.2,1016.9 1077.2,1016.9 1078.2,1016.8 C1079.1,1016.8 1080.1,1016.7 1081.1,1016.7 C1082.1,1016.7 1083.1,1016.7 1084.1,1016.7 C1085.1,1016.7 1086.1,1016.7 1087.1,1016.8 C1088.1,1016.9 1089.0,1016.9 1090.0,1017.0 C1091.0,1017.1 1092.0,1017.3 1093.0,1017.4 C1094.0,1017.6 1095.0,1017.7 1096.0,1017.9 C1096.9,1018.1 1097.9,1018.4 1098.9,1018.6 C1099.9,1018.8 1100.9,1019.1 1101.8,1019.4 C1102.8,1019.7 1103.7,1020.0 1104.7,1020.3 C1105.7,1020.6 1106.6,1021.0 1107.5,1021.4 C1108.5,1021.7 1109.4,1022.1 1110.3,1022.5 C1111.3,1022.9 1112.2,1023.3 1113.1,1023.8 C1114.0,1024.2 1114.9,1024.7 1115.8,1025.2 C1116.6,1025.6 1117.5,1026.1 1118.4,1026.6 C1119.2,1027.2 1120.1,1027.7 1120.9,1028.2 C1121.8,1028.8 1122.6,1029.3 1123.5,1029.9 C1124.3,1030.5 1125.1,1031.0 1125.9,1031.6 C1126.7,1032.2 1127.5,1032.8 1128.3,1033.5 C1129.1,1034.1 1129.9,1034.7 1130.7,1035.3 C1131.5,1036.0 1132.3,1036.6 1133.0,1037.3 C1133.8,1038.0 1134.5,1038.6 1135.3,1039.3 C1136.0,1040.0 1136.8,1040.7 1137.5,1041.3 C1138.2,1042.0 1138.9,1042.7 1139.6,1043.4 C1140.4,1044.1 1141.1,1044.9 1141.8,1045.6 C1142.5,1046.3 1143.1,1047.0 1143.8,1047.7 C1144.5,1048.5 1145.2,1049.2 1145.9,1049.9 C1146.6,1050.7 1147.2,1051.4 1147.9,1052.1 C1148.6,1052.9 1149.2,1053.6 1149.9,1054.4 C1150.6,1055.1 1151.2,1055.9 1151.9,1056.6 C1152.5,1057.3 1153.2,1058.1 1153.9,1058.8 C1154.5,1059.6 1155.2,1060.3 1155.9,1061.1 C1156.5,1061.8 1157.2,1062.6 1157.9,1063.3 C1158.5,1064.1 1159.2,1064.8 1159.9,1065.6 C1160.5,1066.3 1161.2,1067.1 1161.9,1067.8 C1162.6,1068.6 1163.3,1069.3 1163.9,1070.0 C1164.6,1070.8 1165.3,1071.5 1166.0,1072.2 C1166.7,1073.0 1167.4,1073.7 1168.1,1074.4 C1168.8,1075.1 1169.5,1075.8 1170.2,1076.5 C1170.9,1077.3 1171.6,1078.0 1172.4,1078.7 C1173.1,1079.4 1173.8,1080.1 1174.5,1080.7 C1175.3,1081.4 1176.0,1082.1 1176.7,1082.8 C1177.5,1083.5 1178.2,1084.1 1179.0,1084.8 C1179.7,1085.4 1180.5,1086.1 1181.2,1086.7 C1182.0,1087.4 1182.8,1088.0 1183.6,1088.6 C1184.3,1089.3 1185.1,1089.9 1185.9,1090.5 C1186.7,1091.1 1187.5,1091.7 1188.3,1092.3 C1189.1,1092.9 1190.0,1093.4 1190.8,1094.0 C1191.6,1094.5 1192.4,1095.1 1193.3,1095.6 C1194.1,1096.2 1195.0,1096.7 1195.8,1097.2 C1196.7,1097.7 1197.5,1098.3 1198.4,1098.8 C1199.3,1099.3 1200.1,1099.7 1201.0,1100.2 C1201.9,1100.7 1202.8,1101.2 1203.7,1101.7 C1204.6,1102.1 1205.5,1102.6 1206.4,1103.0 C1207.3,1103.5 1208.2,1103.9 1209.1,1104.4 C1210.0,1104.8 1210.9,1105.3 1211.8,1105.7 C1212.7,1106.1 1213.6,1106.6 1214.5,1107.0 C1215.4,1107.4 1216.3,1107.8 1217.3,1108.3 C1218.2,1108.7 1219.1,1109.1 1220.0,1109.5 C1220.9,1109.9 1221.8,1110.3 1222.8,1110.8 C1223.7,1111.2 1224.6,1111.6 1225.5,1112.0 C1226.4,1112.4 1227.3,1112.8 1228.2,1113.2 C1229.2,1113.6 1230.1,1114.0 1231.0,1114.5 C1231.9,1114.9 1232.8,1115.3 1233.7,1115.7 C1234.6,1116.1 1235.5,1116.6 1236.4,1117.0 C1237.3,1117.4 1238.1,1117.8 1239.0,1118.2 C1239.9,1118.7 1240.8,1119.1 1241.7,1119.5 C1242.6,1119.9 1243.5,1120.3 1244.4,1120.7 C1245.3,1121.1 1246.2,1121.5 1247.1,1121.9 C1248.0,1122.3 1248.9,1122.7 1249.8,1123.1 C1250.7,1123.5 1251.6,1123.8 1252.6,1124.2 C1253.5,1124.5 1254.4,1124.9 1255.4,1125.2 C1256.3,1125.5 1257.2,1125.9 1258.2,1126.2 C1259.1,1126.5 1260.1,1126.8 1261.0,1127.1 C1262.0,1127.4 1262.9,1127.7 1263.9,1128.0 C1264.9,1128.3 1265.8,1128.6 1266.8,1128.9 C1267.7,1129.1 1268.7,1129.4 1269.7,1129.7 C1270.7,1129.9 1271.6,1130.2 1272.6,1130.4 C1273.6,1130.7 1274.6,1130.9 1275.6,1131.1 C1276.5,1131.4 1277.5,1131.6 1278.5,1131.8 C1279.5,1132.0 1280.5,1132.2 1281.5,1132.4 C1282.5,1132.6 1283.5,1132.8 1284.5,1133.0 C1285.5,1133.2 1286.5,1133.4 1287.5,1133.6 C1288.5,1133.7 1289.5,1133.9 1290.5,1134.1 C1291.5,1134.2 1292.5,1134.4 1293.5,1134.5 C1294.5,1134.7 1295.5,1134.8 1296.5,1135.0 C1297.5,1135.1 1298.5,1135.2 1299.5,1135.4 C1300.5,1135.5 1301.5,1135.6 1302.5,1135.8 C1303.6,1135.9 1304.6,1136.0 1305.6,1136.1 C1306.6,1136.2 1307.6,1136.4 1308.6,1136.5 C1309.6,1136.6 1310.6,1136.8 1311.5,1136.9 C1312.5,1137.1 1313.5,1137.2 1314.5,1137.4 C1315.5,1137.6 1316.4,1137.8 1317.4,1138.1 C1318.4,1138.3 1319.3,1138.5 1320.2,1138.8 C1321.2,1139.1 1322.1,1139.4 1323.0,1139.7 C1324.0,1140.1 1324.9,1140.5 1325.8,1140.9 C1326.7,1141.3 1327.5,1141.7 1328.4,1142.2 C1329.3,1142.7 1330.2,1143.2 1331.0,1143.7 C1331.9,1144.2 1332.7,1144.8 1333.6,1145.3 C1334.5,1145.8 1335.3,1146.4 1336.2,1146.9 C1337.0,1147.4 1337.9,1147.9 1338.8,1148.4 C1339.7,1148.8 1340.6,1149.2 1341.5,1149.5 C1342.4,1149.9 1343.4,1150.1 1344.4,1150.3 C1345.3,1150.5 1346.3,1150.7 1347.3,1150.8 C1348.3,1151.0 1349.3,1151.1 1350.3,1151.3 C1351.3,1151.4 1352.3,1151.6 1353.3,1151.7 C1354.2,1151.9 1355.2,1152.0 1356.2,1152.2 C1357.2,1152.4 1358.2,1152.5 1359.2,1152.7 C1360.2,1152.9 1361.2,1153.0 1362.1,1153.2 C1363.1,1153.4 1364.1,1153.5 1365.1,1153.7 C1366.1,1153.9 1367.1,1154.1 1368.1,1154.2 C1369.0,1154.4 1370.0,1154.6 1371.0,1154.8 C1372.0,1155.0 1373.0,1155.1 1374.0,1155.3 C1374.9,1155.5 1375.9,1155.7 1376.9,1155.9 C1377.9,1156.1 1378.9,1156.3 1379.9,1156.5 C1380.8,1156.6 1381.8,1156.8 1382.8,1157.0 C1383.8,1157.2 1384.8,1157.4 1385.8,1157.6 C1386.7,1157.8 1387.7,1158.0 1388.7,1158.2 C1389.7,1158.4 1390.7,1158.6 1391.7,1158.8 C1392.6,1159.0 1393.6,1159.2 1394.6,1159.4 C1395.6,1159.6 1396.6,1159.8 1397.5,1160.0 C1398.5,1160.2 1399.5,1160.5 1400.5,1160.7 C1401.5,1160.9 1402.5,1161.1 1403.4,1161.3 C1404.4,1161.5 1405.4,1161.7 1406.4,1161.9 C1407.4,1162.1 1408.3,1162.3 1409.3,1162.5 C1410.3,1162.7 1411.3,1162.9 1412.3,1163.1 C1413.3,1163.3 1414.2,1163.5 1415.2,1163.8 C1416.2,1164.0 1417.2,1164.2 1418.2,1164.4 C1419.1,1164.6 1420.1,1164.8 1421.1,1165.0 C1422.1,1165.2 1423.1,1165.4 1424.1,1165.6 C1425.0,1165.8 1426.0,1166.0 1427.0,1166.2 C1428.0,1166.4 1429.0,1166.7 1429.9,1166.9 C1430.9,1167.1 1431.9,1167.3 1432.9,1167.6 C1433.8,1167.8 1434.8,1168.0 1435.8,1168.3 C1436.7,1168.5 1437.7,1168.8 1438.7,1169.1 C1439.6,1169.3 1440.6,1169.6 1441.5,1169.9 C1442.5,1170.2 1443.4,1170.5 1444.4,1170.9 C1445.3,1171.2 1446.2,1171.5 1447.2,1171.9 C1448.1,1172.2 1449.0,1172.6 1449.9,1173.0 C1450.9,1173.4 1451.8,1173.8 1452.7,1174.1 C1453.6,1174.5 1454.5,1174.9 1455.5,1175.2 C1456.4,1175.6 1457.3,1175.9 1458.3,1176.3 C1459.2,1176.6 1460.2,1176.9 1461.1,1177.1 C1462.1,1177.4 1463.0,1177.7 1464.0,1177.9 C1465.0,1178.1 1466.0,1178.4 1466.9,1178.6 C1467.9,1178.8 1468.9,1179.0 1469.9,1179.1 C1470.9,1179.3 1471.9,1179.5 1472.8,1179.6 C1473.8,1179.8 1474.8,1179.9 1475.8,1180.1 C1476.8,1180.2 1477.8,1180.4 1478.8,1180.5 C1479.8,1180.6 1480.8,1180.7 1481.8,1180.9 C1482.8,1181.0 1483.8,1181.1 1484.8,1181.3 C1485.8,1181.4 1486.8,1181.5 1487.8,1181.6 C1488.8,1181.8 1489.8,1181.9 1490.8,1182.0 C1491.8,1182.2 1492.8,1182.3 1493.8,1182.5 C1494.8,1182.6 1495.8,1182.8 1496.8,1182.9 C1497.7,1183.1 1498.7,1183.2 1499.7,1183.4 C1500.7,1183.6 1501.7,1183.7 1502.7,1183.9 C1503.7,1184.0 1504.7,1184.2 1505.6,1184.3 C1506.6,1184.5 1507.6,1184.6 1508.6,1184.8 C1509.6,1185.0 1510.6,1185.1 1511.6,1185.2 C1512.6,1185.4 1513.6,1185.5 1514.6,1185.7 C1515.6,1185.8 1516.6,1185.9 1517.6,1186.1 C1518.6,1186.2 1519.5,1186.3 1520.5,1186.5 C1521.5,1186.6 1522.5,1186.7 1523.5,1186.9 C1524.5,1187.1 1525.5,1187.2 1526.5,1187.4 C1527.5,1187.6 1528.4,1187.8 1529.4,1188.0 C1530.4,1188.2 1531.3,1188.5 1532.3,1188.7 C1533.2,1189.0 1534.2,1189.3 1535.1,1189.6 C1536.0,1190.0 1536.9,1190.3 1537.8,1190.7 C1538.7,1191.1 1539.6,1191.6 1540.5,1192.0 C1541.4,1192.4 1542.3,1192.9 1543.2,1193.3 C1544.1,1193.7 1545.0,1194.1 1545.9,1194.5 C1546.8,1194.8 1547.7,1195.2 1548.7,1195.5 C1549.6,1195.8 1550.6,1196.1 1551.5,1196.4 C1552.5,1196.7 1553.4,1196.9 1554.4,1197.1 C1555.3,1197.4 1556.3,1197.6 1557.3,1197.8 C1558.3,1198.0 1559.2,1198.2 1560.2,1198.4 C1561.2,1198.6 1562.2,1198.8 1563.2,1198.9 C1564.2,1199.1 1565.2,1199.3 1566.2,1199.4 C1567.2,1199.6 1568.2,1199.7 1569.2,1199.9 C1570.2,1200.0 1571.2,1200.1 1572.2,1200.3 C1573.2,1200.4 1574.2,1200.6 1575.2,1200.7 C1576.2,1200.8 1577.2,1201.0 1578.2,1201.1 C1579.2,1201.3 1580.2,1201.4 1581.2,1201.6 C1582.2,1201.8 1583.2,1201.9 1584.2,1202.1 C1585.1,1202.3 1586.1,1202.5 1587.1,1202.7 C1588.1,1202.9 1589.1,1203.1 1590.0,1203.3 C1591.0,1203.5 1592.0,1203.7 1593.0,1204.0 C1593.9,1204.2 1594.9,1204.4 1595.9,1204.6 C1596.9,1204.9 1597.8,1205.1 1598.8,1205.3 C1599.8,1205.5 1600.8,1205.8 1601.7,1206.0 C1602.7,1206.2 1603.7,1206.4 1604.7,1206.6 C1605.6,1206.8 1606.6,1207.0 1607.6,1207.2 C1608.6,1207.4 1609.6,1207.5 1610.6,1207.7 C1611.6,1207.9 1612.6,1208.0 1613.6,1208.1 C1614.6,1208.3 1615.6,1208.4 1616.6,1208.5 C1617.6,1208.6 1618.6,1208.7 1619.6,1208.8 C1620.6,1209.0 1621.6,1209.1 1622.6,1209.2 C1623.6,1209.3 1624.6,1209.5 1625.6,1209.6 C1626.6,1209.8 1627.6,1209.9 1628.6,1210.1 C1629.6,1210.4 1630.6,1210.6 1631.5,1210.8 C1632.5,1211.1 1633.4,1211.4 1634.4,1211.7 C1635.3,1212.1 1636.2,1212.4 1637.1,1212.8 C1638.0,1213.3 1638.9,1213.7 1639.8,1214.2 C1640.7,1214.7 1641.6,1215.2 1642.5,1215.7 C1643.3,1216.2 1644.2,1216.7 1645.1,1217.1 C1646.0,1217.6 1646.9,1218.0 1647.8,1218.4 C1648.8,1218.8 1649.7,1219.1 1650.6,1219.5 C1651.6,1219.8 1652.5,1220.1 1653.5,1220.4 C1654.4,1220.7 1655.4,1220.9 1656.3,1221.2 C1657.3,1221.4 1658.3,1221.6 1659.2,1221.8 C1660.2,1222.0 1661.2,1222.2 1662.2,1222.4 C1663.2,1222.6 1664.2,1222.7 1665.2,1222.9 C1666.1,1223.0 1667.1,1223.2 1668.1,1223.3 C1669.1,1223.4 1670.1,1223.6 1671.1,1223.7 C1672.1,1223.8 1673.1,1223.9 1674.1,1224.0 C1675.2,1224.2 1676.2,1224.3 1677.2,1224.4 C1678.2,1224.5 1679.2,1224.7 1680.2,1224.8 C1681.1,1224.9 1682.1,1225.1 1683.1,1225.2 C1684.1,1225.4 1685.1,1225.5 1686.1,1225.7 C1687.1,1225.8 1688.1,1226.0 1689.1,1226.2 C1690.1,1226.3 1691.1,1226.5 1692.0,1226.7 C1693.0,1226.8 1694.0,1227.0 1695.0,1227.2 C1696.0,1227.3 1697.0,1227.5 1698.0,1227.7 C1698.9,1227.9 1699.9,1228.0 1700.9,1228.2 C1701.9,1228.4 1702.9,1228.5 1703.9,1228.7 C1704.9,1228.8 1705.8,1229.0 1706.8,1229.2 C1707.8,1229.3 1708.8,1229.5 1709.8,1229.6 C1710.8,1229.8 1711.8,1230.0 1712.8,1230.1 C1713.7,1230.3 1714.7,1230.4 1715.7,1230.6 C1716.7,1230.7 1717.7,1230.9 1718.7,1231.1 C1719.7,1231.2 1720.7,1231.4 1721.7,1231.5 C1722.7,1231.7 1723.6,1231.8 1724.6,1232.0 C1725.6,1232.1 1726.6,1232.3 1727.6,1232.4 C1728.6,1232.6 1729.6,1232.7 1730.6,1232.9 C1731.6,1233.0 1732.6,1233.2 1733.6,1233.3 C1734.5,1233.5 1735.5,1233.7 1736.5,1233.8 C1737.5,1234.0 1738.5,1234.1 1739.5,1234.3 C1740.5,1234.4 1741.5,1234.6 1742.5,1234.7 C1743.5,1234.9 1744.5,1235.1 1745.4,1235.2 C1746.4,1235.4 1747.4,1235.5 1748.4,1235.7 C1749.4,1235.9 1750.4,1236.0 1751.4,1236.2 C1752.4,1236.4 1753.4,1236.5 1754.3,1236.7 C1755.3,1236.9 1756.3,1237.0 1757.3,1237.2 C1758.3,1237.4 1759.3,1237.6 1760.3,1237.7 C1761.3,1237.9 1762.2,1238.1 1763.2,1238.3 C1764.2,1238.4 1765.2,1238.6 1766.2,1238.8 C1767.2,1239.0 1768.2,1239.2 1769.1,1239.4 C1770.1,1239.6 1771.1,1239.8 1772.1,1240.0 C1773.1,1240.2 1774.0,1240.4 1775.0,1240.6 C1776.0,1240.8 1777.0,1241.0 1778.0,1241.2 C1778.9,1241.4 1779.9,1241.6 1780.9,1241.8 C1781.9,1242.0 1782.9,1242.2 1783.8,1242.5 C1784.8,1242.7 1785.8,1242.9 1786.8,1243.1 C1787.7,1243.4 1788.7,1243.6 1789.7,1243.8 C1790.6,1244.1 1791.6,1244.3 1792.6,1244.6 C1793.6,1244.8 1794.5,1245.1 1795.5,1245.3 C1796.5,1245.6 1797.4,1245.8 1798.4,1246.0 C1799.4,1246.3 1800.4,1246.5 1801.3,1246.8 C1802.3,1247.0 1803.3,1247.2 1804.2,1247.5 C1805.2,1247.7 1806.2,1247.9 1807.2,1248.1 C1808.2,1248.3 1809.1,1248.5 1810.1,1248.7 C1811.1,1248.9 1812.1,1249.1 1813.1,1249.3 C1814.1,1249.4 1815.0,1249.6 1816.0,1249.7 C1817.0,1249.8 1818.0,1250.0 1819.0,1250.1 C1820.0,1250.2 1821.0,1250.3 1822.0,1250.3 C1823.1,1250.4 1824.1,1250.4 1825.1,1250.5 C1826.1,1250.5 1827.1,1250.5 1828.1,1250.5 C1829.2,1250.6 1830.2,1250.6 1831.1,1250.7 C1832.1,1250.9 1833.1,1251.0 1834.0,1251.3 C1834.9,1251.6 1835.8,1252.1 1836.6,1252.6 C1837.5,1253.1 1838.3,1253.7 1839.1,1254.4 C1839.9,1255.0 1840.7,1255.7 1841.4,1256.4 C1842.2,1257.1 1843.0,1257.8 1843.8,1258.4 C1844.6,1259.1 1845.4,1259.7 1846.3,1260.2 C1847.1,1260.7 1848.0,1261.1 1848.8,1261.4 C1849.7,1261.8 1850.6,1262.1 1851.6,1262.3 C1852.5,1262.5 1853.4,1262.7 1854.4,1262.9 C1855.3,1263.0 1856.3,1263.1 1857.3,1263.1 C1858.3,1263.2 1859.3,1263.2 1860.3,1263.2 C1861.3,1263.2 1862.3,1263.1 1863.3,1263.1 C1864.3,1263.0 1865.3,1262.9 1866.4,1262.9 C1867.4,1262.8 1868.4,1262.7 1869.4,1262.6 C1870.5,1262.5 1871.5,1262.4 1872.5,1262.4 C1873.6,1262.3 1874.6,1262.2 1875.6,1262.2 C1876.6,1262.2 1877.7,1262.1 1878.7,1262.1 C1879.7,1262.1 1880.7,1262.1 1881.7,1262.2 C1882.7,1262.2 1883.7,1262.2 1884.7,1262.3 C1885.7,1262.3 1886.7,1262.4 1887.7,1262.5 C1888.7,1262.5 1889.7,1262.6 1890.7,1262.7 C1891.7,1262.8 1892.7,1262.9 1893.7,1263.0 C1894.7,1263.1 1895.7,1263.2 1896.7,1263.2 C1897.7,1263.3 1898.7,1263.4 1899.7,1263.5 C1900.7,1263.6 1901.7,1263.7 1902.7,1263.8 C1903.7,1263.9 1904.7,1264.0 1905.7,1264.0 C1906.7,1264.1 1907.7,1264.2 1908.7,1264.3 C1909.6,1264.4 1910.6,1264.5 1911.6,1264.6 C1912.6,1264.7 1913.6,1264.8 1914.6,1265.0 C1915.6,1265.1 1916.6,1265.2 1917.6,1265.4 C1918.6,1265.5 1919.6,1265.7 1920.5,1265.9 C1921.5,1266.1 1922.5,1266.3 1923.5,1266.5 C1924.5,1266.7 1925.4,1266.9 1926.4,1267.2 C1927.4,1267.4 1928.3,1267.7 1929.3,1268.0 C1930.2,1268.2 1931.2,1268.5 1932.2,1268.7 C1933.1,1268.9 1934.1,1269.2 1935.1,1269.3 C1936.1,1269.5 1937.0,1269.7 1938.0,1269.8 C1939.0,1269.9 1940.0,1270.0 1941.0,1270.1 C1941.9,1270.2 1942.9,1270.2 1943.9,1270.2 C1944.9,1270.3 1945.9,1270.3 1946.9,1270.3 C1947.9,1270.3 1948.9,1270.3 1949.9,1270.3 C1950.9,1270.3 1951.9,1270.2 1952.9,1270.2 C1953.9,1270.1 1954.9,1270.1 1955.9,1270.0 C1956.9,1269.9 1957.9,1269.9 1958.9,1269.8 C1959.9,1269.7 1960.9,1269.6 1962.0,1269.6 C1963.0,1269.5 1964.0,1269.4 1965.0,1269.3 C1966.0,1269.3 1967.0,1269.2 1968.0,1269.1 C1969.0,1269.0 1970.0,1269.0 1971.0,1268.9 C1972.0,1268.9 1973.1,1268.8 1974.1,1268.8 C1975.1,1268.7 1976.1,1268.7 1977.1,1268.7 C1978.1,1268.7 1979.1,1268.7 1980.1,1268.7 C1981.1,1268.7 1982.1,1268.8 1983.1,1268.8 C1984.1,1268.9 1985.1,1269.0 1986.1,1269.1 C1987.1,1269.1 1988.1,1269.3 1989.1,1269.4 C1990.1,1269.5 1991.0,1269.7 1992.0,1269.8 C1993.0,1269.9 1994.0,1270.1 1995.0,1270.2 C1996.0,1270.3 1997.0,1270.4 1998.0,1270.5 C1999.0,1270.6 2000.0,1270.7 2001.0,1270.8 C2002.0,1270.8 2003.0,1270.8 2003.9,1270.8 C2004.9,1270.8 2005.9,1270.8 2006.9,1270.7 C2008.0,1270.6 2009.0,1270.4 2010.0,1270.3 C2011.0,1270.1 2012.0,1269.8 2013.0,1269.5" stroke="#00f"/>
<path d="M204.5,869.1 C204.7,870.0 205.0,871.0 205.2,871.9 C205.4,872.9 205.6,873.9 205.8,874.8 C206.0,875.8 206.2,876.8 206.4,877.7 C206.6,878.7 206.8,879.7 207.0,880.7 C207.2,881.6 207.4,882.6 207.6,883.6 C207.8,884.6 208.0,885.6 208.2,886.5 C208.4,887.5 208.6,888.5 208.8,889.5 C209.0,890.5 209.2,891.5 209.4,892.4 C209.6,893.4 209.8,894.4 210.0,895.4 C210.2,896.4 210.4,897.4 210.5,898.4 C210.7,899.4 210.9,900.3 211.1,901.3 C211.3,902.3 211.5,903.3 211.7,904.3 C211.9,905.3 212.1,906.3 212.3,907.3 C212.5,908.3 212.8,909.2 213.0,910.2 C213.2,911.2 213.4,912.2 213.6,913.2 C213.8,914.2 214.0,915.2 214.3,916.1 C214.5,917.1 214.7,918.1 214.9,919.1 C215.2,920.1 215.4,921.1 215.7,922.0 C215.9,923.0 216.1,924.0 216.4,925.0 C216.6,925.9 216.9,926.9 217.2,927.9 C217.4,928.9 217.7,929.8 218.0,930.8 C218.2,931.8 218.5,932.7 218.8,933.7 C219.1,934.6 219.4,935.6 219.7,936.6 C220.0,937.5 220.3,938.5 220.6,939.4 C220.9,940.4 221.3,941.3 221.6,942.2 C221.9,943.2 222.3,944.1 222.6,945.1 C223.0,946.0 223.3,946.9 223.7,947.9 C224.1,948.8 224.4,949.7 224.8,950.6 C225.2,951.5 225.6,952.5 226.0,953.4 C226.4,954.3 226.8,955.2 227.3,956.1 C227.7,957.0 228.1,957.9 228.5,958.8 C229.0,959.7 229.4,960.6 229.9,961.4 C230.4,962.3 230.8,963.2 231.3,964.1 C231.8,965.0 232.3,965.8 232.7,966.7 C233.2,967.6 233.7,968.4 234.3,969.3 C234.8,970.1 235.3,971.0 235.8,971.9 C236.3,972.7 236.9,973.5 237.4,974.4 C237.9,975.2 238.5,976.1 239.0,976.9 C239.6,977.7 240.2,978.5 240.7,979.4 C241.3,980.2 241.9,981.0 242.5,981.8 C243.1,982.6 243.7,983.4 244.3,984.2 C244.9,985.0 245.5,985.8 246.1,986.6 C246.7,987.4 247.3,988.2 247.9,989.0 C248.6,989.8 249.2,990.5 249.8,991.3 C250.5,992.1 251.1,992.9 251.8,993.6 C252.4,994.4 253.1,995.1 253.8,995.9 C254.4,996.7 255.1,997.4 255.8,998.1 C256.5,998.9 257.1,999.6 257.8,1000.4 C258.5,1001.1 259.2,1001.8 259.9,1002.5 C260.6,1003.3 261.3,1004.0 262.0,1004.7 C262.7,1005.4 263.5,1006.1 264.2,1006.8 C264.9,1007.5 265.6,1008.2 266.4,1008.9 C267.1,1009.6 267.8,1010.3 268.6,1011.0 C269.3,1011.6 270.1,1012.3 270.8,1013.0 C271.6,1013.7 272.3,1014.3 273.1,1015.0 C273.9,1015.6 274.6,1016.3 275.4,1016.9 C276.2,1017.6 276.9,1018.2 277.7,1018.9 C278.5,1019.5 279.3,1020.1 280.1,1020.8 C280.8,1021.4 281.6,1022.0 282.4,1022.6 C283.2,1023.2 284.0,1023.8 284.8,1024.4 C285.6,1025.0 286.4,1025.6 287.2,1026.2 C288.0,1026.8 288.9,1027.4 289.7,1028.0 C290.5,1028.6 291.3,1029.1 292.1,1029.7 C293.0,1030.3 293.8,1030.8 294.6,1031.4 C295.4,1031.9 296.3,1032.5 297.1,1033.0 C298.0,1033.6 298.8,1034.1 299.7,1034.6 C300.5,1035.2 301.4,1035.7 302.2,1036.2 C303.1,1036.7 303.9,1037.2 304.8,1037.7 C305.6,1038.2 306.5,1038.7 307.4,1039.2 C308.2,1039.7 309.1,1040.2 310.0,1040.7 C310.9,1041.2 311.8,1041.6 312.6,1042.1 C313.5,1042.6 314.4,1043.0 315.3,1043.5 C316.2,1043.9 317.1,1044.4 318.0,1044.8 C318.9,1045.3 319.8,1045.7 320.7,1046.1 C321.6,1046.6 322.5,1047.0 323.4,1047.4 C324.3,1047.8 325.2,1048.2 326.1,1048.6 C327.0,1049.1 327.9,1049.5 328.9,1049.8 C329.8,1050.2 330.7,1050.6 331.6,1051.0 C332.6,1051.4 333.5,1051.8 334.4,1052.2 C335.3,1052.5 336.3,1052.9 337.2,1053.3 C338.1,1053.6 339.1,1054.0 340.0,1054.4 C340.9,1054.7 341.9,1055.1 342.8,1055.4 C343.7,1055.8 344.7,1056.1 345.6,1056.5 C346.6,1056.8 347.5,1057.2 348.5,1057.5 C349.4,1057.9 350.3,1058.2 351.3,1058.5 C352.2,1058.9 353.2,1059.2 354.1,1059.6 C355.1,1059.9 356.0,1060.2 357.0,1060.6 C357.9,1060.9 358.8,1061.3 359.8,1061.6 C360.7,1061.9 361.7,1062.3 362.6,1062.6 C363.6,1063.0 364.5,1063.3 365.4,1063.6 C366.4,1064.0 367.3,1064.3 368.3,1064.7 C369.2,1065.0 370.2,1065.4 371.1,1065.7 C372.1,1066.1 373.0,1066.4 373.9,1066.7 C374.9,1067.1 375.8,1067.4 376.8,1067.8 C377.7,1068.1 378.6,1068.5 379.6,1068.8 C380.5,1069.1 381.5,1069.5 382.4,1069.8 C383.4,1070.2 384.3,1070.5 385.2,1070.8 C386.2,1071.2 387.1,1071.5 388.1,1071.9 C389.0,1072.2 390.0,1072.5 390.9,1072.9 C391.9,1073.2 392.8,1073.6 393.7,1073.9 C394.7,1074.2 395.6,1074.6 396.6,1074.9 C397.5,1075.2 398.5,1075.6 399.4,1075.9 C400.4,1076.2 401.3,1076.5 402.3,1076.9 C403.2,1077.2 404.2,1077.5 405.1,1077.8 C406.1,1078.2 407.0,1078.5 408.0,1078.8 C408.9,1079.1 409.9,1079.4 410.8,1079.8 C411.8,1080.1 412.7,1080.4 413.7,1080.7 C414.6,1081.0 415.6,1081.3 416.5,1081.6 C417.5,1081.9 418.4,1082.3 419.4,1082.6 C420.3,1082.9 421.3,1083.2 422.2,1083.5 C423.2,1083.8 424.1,1084.1 425.1,1084.4 C426.0,1084.7 427.0,1085.0 428.0,1085.3 C428.9,1085.6 429.9,1085.9 430.8,1086.2 C431.8,1086.5 432.7,1086.8 433.7,1087.1 C434.7,1087.4 435.6,1087.7 436.6,1088.0 C437.5,1088.2 438.5,1088.5 439.5,1088.8 C440.4,1089.1 441.4,1089.4 442.3,1089.7 C443.3,1090.0 444.2,1090.3 445.2,1090.5 C446.2,1090.8 447.1,1091.1 448.1,1091.4 C449.1,1091.7 450.0,1092.0 451.0,1092.2 C451.9,1092.5 452.9,1092.8 453.9,1093.1 C454.8,1093.3 455.8,1093.6 456.8,1093.9 C457.7,1094.2 458.7,1094.4 459.6,1094.7 C460.6,1095.0 461.6,1095.3 462.5,1095.5 C463.5,1095.8 464.5,1096.1 465.4,1096.3 C466.4,1096.6 467.4,1096.9 468.3,1097.1 C469.3,1097.4 470.3,1097.7 471.2,1097.9 C472.2,1098.2 473.2,1098.5 474.1,1098.7 C475.1,1099.0 476.1,1099.3 477.0,1099.5 C478.0,1099.8 479.0,1100.0 479.9,1100.3 C480.9,1100.6 481.9,1100.8 482.8,1101.1 C483.8,1101.3 484.8,1101.6 485.7,1101.8 C486.7,1102.1 487.7,1102.4 488.7,1102.6 C489.6,1102.9 490.6,1103.1 491.6,1103.4 C492.5,1103.6 493.5,1103.9 494.5,1104.1 C495.4,1104.4 496.4,1104.6 497.4,1104.9 C498.4,1105.1 499.3,1105.4 500.3,1105.6 C501.3,1105.9 502.2,1106.1 503.2,1106.4 C504.2,1106.6 505.2,1106.9 506.1,1107.1 C507.1,1107.3 508.1,1107.6 509.0,1107.8 C510.0,1108.1 511.0,1108.3 512.0,1108.6 C512.9,1108.8 513.9,1109.0 514.9,1109.3 C515.8,1109.5 516.8,1109.8 517.8,1110.0 C518.8,1110.2 519.7,1110.5 520.7,1110.7 C521.7,1111.0 522.7,1111.2 523.6,1111.4 C524.6,1111.7 525.6,1111.9 526.6,1112.2 C527.5,1112.4 528.5,1112.6 529.5,1112.9 C530.4,1113.1 531.4,1113.3 532.4,1113.6 C533.4,1113.8 534.3,1114.0 535.3,1114.3 C536.3,1114.5 537.3,1114.7 538.2,1115.0 C539.2,1115.2 540.2,1115.5 541.2,1115.7 C542.1,1115.9 543.1,1116.2 544.1,1116.4 C545.1,1116.6 546.0,1116.9 547.0,1117.1 C548.0,1117.3 549.0,1117.6 549.9,1117.8 C550.9,1118.0 551.9,1118.3 552.9,1118.5 C553.8,1118.7 554.8,1119.0 555.8,1119.2 C556.7,1119.4 557.7,1119.7 558.7,1119.9 C559.7,1120.2 560.6,1120.4 561.6,1120.6 C562.6,1120.9 563.6,1121.1 564.5,1121.3 C565.5,1121.6 566.5,1121.8 567.5,1122.1 C568.4,1122.3 569.4,1122.5 570.4,1122.8 C571.4,1123.0 572.3,1123.2 573.3,1123.5 C574.3,1123.7 575.2,1124.0 576.2,1124.2 C577.2,1124.5 578.2,1124.7 579.1,1124.9 C580.1,1125.2 581.1,1125.4 582.0,1125.7 C583.0,1125.9 584.0,1126.2 585.0,1126.4 C585.9,1126.6 586.9,1126.9 587.9,1127.1 C588.8,1127.4 589.8,1127.6 590.8,1127.9 C591.8,1128.1 592.7,1128.4 593.7,1128.6 C594.7,1128.9 595.6,1129.1 596.6,1129.4 C597.6,1129.7 598.5,1129.9 599.5,1130.2 C600.5,1130.4 601.5,1130.7 602.4,1130.9 C603.4,1131.2 604.4,1131.5 605.3,1131.7 C606.3,1132.0 607.3,1132.2 608.2,1132.5 C609.2,1132.8 610.2,1133.0 611.1,1133.3 C612.1,1133.6 613.1,1133.8 614.0,1134.1 C615.0,1134.3 616.0,1134.6 616.9,1134.9 C617.9,1135.1 618.9,1135.4 619.8,1135.7 C620.8,1135.9 621.8,1136.2 622.7,1136.5 C623.7,1136.7 624.7,1137.0 625.6,1137.3 C626.6,1137.6 627.6,1137.8 628.5,1138.1 C629.5,1138.4 630.5,1138.6 631.4,1138.9 C632.4,1139.2 633.4,1139.4 634.3,1139.7 C635.3,1140.0 636.3,1140.2 637.2,1140.5 C638.2,1140.8 639.2,1141.0 640.1,1141.3 C641.1,1141.6 642.1,1141.8 643.0,1142.1 C644.0,1142.4 645.0,1142.6 645.9,1142.9 C646.9,1143.2 647.9,1143.4 648.8,1143.7 C649.8,1144.0 650.8,1144.2 651.7,1144.5 C652.7,1144.7 653.7,1145.0 654.6,1145.3 C655.6,1145.5 656.6,1145.8 657.5,1146.0 C658.5,1146.3 659.5,1146.6 660.4,1146.8 C661.4,1147.1 662.4,1147.3 663.3,1147.6 C664.3,1147.8 665.3,1148.1 666.2,1148.3 C667.2,1148.6 668.2,1148.8 669.2,1149.1 C670.1,1149.3 671.1,1149.6 672.1,1149.8 C673.0,1150.1 674.0,1150.3 675.0,1150.6 C676.0,1150.8 676.9,1151.0 677.9,1151.3 C678.9,1151.5 679.8,1151.8 680.8,1152.0 C681.8,1152.2 682.8,1152.5 683.7,1152.7 C684.7,1152.9 685.7,1153.1 686.7,1153.4 C687.6,1153.6 688.6,1153.8 689.6,1154.0 C690.6,1154.3 691.6,1154.5 692.5,1154.7 C693.5,1154.9 694.5,1155.2 695.5,1155.4 C696.4,1155.6 697.4,1155.8 698.4,1156.0 C699.4,1156.2 700.4,1156.4 701.3,1156.7 C702.3,1156.9 703.3,1157.1 704.3,1157.3 C705.3,1157.5 706.2,1157.7 707.2,1157.9 C708.2,1158.1 709.2,1158.3 710.2,1158.5 C711.1,1158.7 712.1,1159.0 713.1,1159.2 C714.1,1159.4 715.1,1159.6 716.0,1159.8 C717.0,1160.0 718.0,1160.2 719.0,1160.4 C720.0,1160.6 720.9,1160.8 721.9,1161.0 C722.9,1161.2 723.9,1161.4 724.9,1161.6 C725.9,1161.8 726.8,1162.0 727.8,1162.2 C728.8,1162.4 729.8,1162.5 730.8,1162.7 C731.8,1162.9 732.7,1163.1 733.7,1163.3 C734.7,1163.5 735.7,1163.7 736.7,1163.9 C737.7,1164.1 738.6,1164.3 739.6,1164.5 C740.6,1164.7 741.6,1164.9 742.6,1165.1 C743.6,1165.3 744.5,1165.5 745.5,1165.7 C746.5,1165.9 747.5,1166.1 748.5,1166.3 C749.5,1166.5 750.4,1166.7 751.4,1166.8 C752.4,1167.0 753.4,1167.2 754.4,1167.4 C755.4,1167.6 756.3,1167.8 757.3,1168.0 C758.3,1168.2 759.3,1168.4 760.3,1168.6 C761.2,1168.8 762.2,1169.0 763.2,1169.2 C764.2,1169.4 765.2,1169.6 766.2,1169.8 C767.1,1170.0 768.1,1170.2 769.1,1170.4 C770.1,1170.6 771.1,1170.8 772.0,1171.0 C773.0,1171.3 774.0,1171.5 775.0,1171.7 C776.0,1171.9 776.9,1172.1 777.9,1172.3 C778.9,1172.5 779.9,1172.7 780.9,1172.9 C781.8,1173.1 782.8,1173.3 783.8,1173.6 C784.8,1173.8 785.8,1174.0 786.7,1174.2 C787.7,1174.4 788.7,1174.6 789.7,1174.9 C790.7,1175.1 791.6,1175.3 792.6,1175.5 C793.6,1175.8 794.6,1176.0 795.5,1176.2 C796.5,1176.4 797.5,1176.7 798.5,1176.9 C799.4,1177.1 800.4,1177.3 801.4,1177.6 C802.4,1177.8 803.3,1178.1 804.3,1178.3 C805.3,1178.5 806.3,1178.8 807.2,1179.0 C808.2,1179.2 809.2,1179.5 810.1,1179.7 C811.1,1180.0 812.1,1180.2 813.1,1180.5 C814.0,1180.7 815.0,1181.0 816.0,1181.2 C816.9,1181.5 817.9,1181.7 818.9,1182.0 C819.8,1182.2 820.8,1182.5 821.8,1182.7 C822.8,1183.0 823.7,1183.3 824.7,1183.5 C825.7,1183.8 826.6,1184.0 827.6,1184.3 C828.6,1184.6 829.5,1184.8 830.5,1185.1 C831.5,1185.4 832.4,1185.6 833.4,1185.9 C834.4,1186.2 835.3,1186.4 836.3,1186.7 C837.3,1187.0 838.2,1187.2 839.2,1187.5 C840.1,1187.8 841.1,1188.1 842.1,1188.3 C843.0,1188.6 844.0,1188.9 845.0,1189.2 C845.9,1189.4 846.9,1189.7 847.9,1190.0 C848.8,1190.3 849.8,1190.6 850.7,1190.8 C851.7,1191.1 852.7,1191.4 853.6,1191.7 C854.6,1192.0 855.6,1192.3 856.5,1192.5 C857.5,1192.8 858.4,1193.1 859.4,1193.4 C860.4,1193.7 861.3,1194.0 862.3,1194.3 C863.2,1194.5 864.2,1194.8 865.2,1195.1 C866.1,1195.4 867.1,1195.7 868.1,1196.0 C869.0,1196.3 870.0,1196.6 870.9,1196.9 C871.9,1197.2 872.8,1197.5 873.8,1197.8 C874.8,1198.1 875.7,1198.3 876.7,1198.6 C877.6,1198.9 878.6,1199.2 879.6,1199.5 C880.5,1199.8 881.5,1200.1 882.4,1200.4 C883.4,1200.7 884.4,1201.0 885.3,1201.3 C886.3,1201.6 887.2,1201.9 888.2,1202.2 C889.1,1202.5 890.1,1202.8 891.1,1203.1 C892.0,1203.4 893.0,1203.7 893.9,1204.0 C894.9,1204.3 895.8,1204.6 896.8,1204.9 C897.8,1205.2 898.7,1205.5 899.7,1205.8 C900.6,1206.1 901.6,1206.4 902.5,1206.7 C903.5,1207.0 904.5,1207.3 905.4,1207.6 C906.4,1207.9 907.3,1208.2 908.3,1208.5 C909.2,1208.8 910.2,1209.1 911.2,1209.4 C912.1,1209.7 913.1,1210.0 914.0,1210.3 C915.0,1210.6 915.9,1211.0 916.9,1211.3 C917.8,1211.6 918.8,1211.9 919.8,1212.2 C920.7,1212.5 921.7,1212.8 922.6,1213.1 C923.6,1213.4 924.5,1213.7 925.5,1214.0 C926.5,1214.3 927.4,1214.6 928.4,1214.9 C929.3,1215.2 930.3,1215.5 931.2,1215.8 C932.2,1216.1 933.1,1216.4 934.1,1216.7 C935.1,1217.0 936.0,1217.3 937.0,1217.6 C937.9,1217.9 938.9,1218.2 939.8,1218.4 C940.8,1218.7 941.8,1219.0 942.7,1219.3 C943.7,1219.6 944.6,1219.9 945.6,1220.2 C946.5,1220.5 947.5,1220.8 948.5,1221.1 C949.4,1221.4 950.4,1221.7 951.3,1222.0 C952.3,1222.3 953.2,1222.6 954.2,1222.9 C955.2,1223.1 956.1,1223.4 957.1,1223.7 C958.0,1224.0 959.0,1224.3 959.9,1224.6 C960.9,1224.9 961.9,1225.1 962.8,1225.4 C963.8,1225.7 964.7,1226.0 965.7,1226.2 C966.7,1226.5 967.6,1226.8 968.6,1227.0 C969.6,1227.3 970.5,1227.6 971.5,1227.8 C972.4,1228.1 973.4,1228.3 974.4,1228.6 C975.3,1228.8 976.3,1229.1 977.3,1229.3 C978.2,1229.6 979.2,1229.8 980.2,1230.0 C981.1,1230.2 982.1,1230.5 983.1,1230.7 C984.1,1230.9 985.0,1231.1 986.0,1231.3 C987.0,1231.5 988.0,1231.7 988.9,1231.9 C989.9,1232.1 990.9,1232.3 991.9,1232.5 C992.8,1232.6 993.8,1232.8 994.8,1233.0 C995.8,1233.1 996.8,1233.3 997.8,1233.4 C998.7,1233.6 999.7,1233.7 1000.7,1233.8 C1001.7,1234.0 1002.7,1234.1 1003.7,1234.2 C1004.7,1234.3 1005.7,1234.4 1006.7,1234.5 C1007.7,1234.6 1008.7,1234.7 1009.7,1234.8 C1010.7,1234.8 1011.7,1234.9 1012.7,1234.9 C1013.7,1235.0 1014.7,1235.0 1015.7,1235.1 C1016.7,1235.1 1017.7,1235.1 1018.7,1235.1 C1019.7,1235.1 1020.7,1235.1 1021.8,1235.1 C1022.8,1235.1 1023.8,1235.1 1024.8,1235.0 C1025.8,1235.0 1026.8,1234.9 1027.9,1234.9 C1028.9,1234.8 1029.9,1234.8 1030.9,1234.7 C1032.0,1234.7 1033.0,1234.6 1034.0,1234.5 C1035.0,1234.5 1036.1,1234.4 1037.1,1234.3 C1038.1,1234.3 1039.1,1234.2 1040.2,1234.1 C1041.2,1234.0 1042.2,1234.0 1043.2,1233.9 C1044.2,1233.8 1045.3,1233.8 1046.3,1233.7 C1047.3,1233.7 1048.3,1233.6 1049.3,1233.6 C1050.3,1233.5 1051.3,1233.5 1052.4,1233.5 C1053.4,1233.4 1054.4,1233.4 1055.4,1233.4 C1056.4,1233.4 1057.4,1233.4 1058.4,1233.4 C1059.4,1233.5 1060.4,1233.5 1061.3,1233.5 C1062.3,1233.6 1063.3,1233.6 1064.3,1233.7 C1065.3,1233.8 1066.2,1233.9 1067.2,1234.0 C1068.2,1234.1 1069.1,1234.3 1070.1,1234.4 C1071.1,1234.6 1072.0,1234.8 1073.0,1235.0 C1073.9,1235.2 1074.8,1235.4 1075.8,1235.6 C1076.7,1235.9 1077.6,1236.2 1078.6,1236.4 C1079.5,1236.7 1080.4,1237.1 1081.3,1237.4 C1082.2,1237.7 1083.1,1238.1 1084.0,1238.5 C1084.9,1238.8 1085.8,1239.2 1086.7,1239.6 C1087.6,1240.0 1088.5,1240.5 1089.3,1240.9 C1090.2,1241.4 1091.1,1241.8 1091.9,1242.3 C1092.8,1242.8 1093.7,1243.3 1094.5,1243.8 C1095.4,1244.3 1096.2,1244.8 1097.1,1245.4 C1097.9,1245.9 1098.7,1246.4 1099.6,1247.0 C1100.4,1247.6 1101.2,1248.1 1102.0,1248.7 C1102.9,1249.3 1103.7,1249.9 1104.5,1250.5 C1105.3,1251.1 1106.1,1251.7 1106.9,1252.3 C1107.7,1253.0 1108.5,1253.6 1109.3,1254.2 C1110.1,1254.9 1110.9,1255.5 1111.7,1256.1 C1112.5,1256.8 1113.2,1257.4 1114.0,1258.1 C1114.8,1258.8 1115.6,1259.4 1116.3,1260.1 C1117.1,1260.7 1117.9,1261.4 1118.6,1262.1 C1119.4,1262.8 1120.1,1263.4 1120.9,1264.1 C1121.7,1264.8 1122.4,1265.5 1123.2,1266.2 C1123.9,1266.8 1124.7,1267.5 1125.4,1268.2 C1126.2,1268.9 1126.9,1269.6 1127.7,1270.3 C1128.4,1270.9 1129.2,1271.6 1129.9,1272.3 C1130.7,1273.0 1131.4,1273.7 1132.2,1274.4 C1132.9,1275.0 1133.7,1275.7 1134.4,1276.4 C1135.2,1277.1 1136.0,1277.7 1136.7,1278.4 C1137.5,1279.1 1138.2,1279.7 1139.0,1280.4 C1139.7,1281.1 1140.5,1281.7 1141.3,1282.4 C1142.0,1283.0 1142.8,1283.7 1143.6,1284.3 C1144.4,1284.9 1145.1,1285.6 1145.9,1286.2 C1146.7,1286.8 1147.5,1287.4 1148.3,1288.0 C1149.1,1288.6 1149.9,1289.2 1150.7,1289.8 C1151.5,1290.4 1152.3,1291.0 1153.1,1291.6 C1153.9,1292.1 1154.7,1292.7 1155.5,1293.3 C1156.4,1293.8 1157.2,1294.4 1158.0,1294.9 C1158.9,1295.4 1159.7,1295.9 1160.6,1296.4 C1161.4,1296.9 1162.3,1297.4 1163.1,1297.9 C1164.0,1298.4 1164.9,1298.9 1165.8,1299.3 C1166.6,1299.8 1167.5,1300.2 1168.4,1300.7 C1169.3,1301.1 1170.2,1301.5 1171.1,1302.0 C1172.0,1302.4 1172.9,1302.8 1173.8,1303.2 C1174.8,1303.6 1175.7,1304.0 1176.6,1304.4 C1177.5,1304.7 1178.4,1305.1 1179.4,1305.5 C1180.3,1305.8 1181.2,1306.2 1182.2,1306.5 C1183.1,1306.9 1184.1,1307.2 1185.0,1307.6 C1186.0,1307.9 1186.9,1308.2 1187.9,1308.6 C1188.8,1308.9 1189.8,1309.2 1190.7,1309.5 C1191.7,1309.8 1192.7,1310.1 1193.6,1310.4 C1194.6,1310.7 1195.5,1311.0 1196.5,1311.3 C1197.5,1311.6 1198.4,1311.9 1199.4,1312.2 C1200.4,1312.5 1201.3,1312.7 1202.3,1313.0 C1203.3,1313.3 1204.2,1313.6 1205.2,1313.8 C1206.2,1314.1 1207.1,1314.4 1208.1,1314.6 C1209.1,1314.9 1210.1,1315.1 1211.0,1315.4 C1212.0,1315.7 1213.0,1315.9 1213.9,1316.2 C1214.9,1316.4 1215.9,1316.7 1216.9,1316.9 C1217.8,1317.2 1218.8,1317.4 1219.8,1317.6 C1220.8,1317.9 1221.7,1318.1 1222.7,1318.4 C1223.7,1318.6 1224.7,1318.8 1225.6,1319.0 C1226.6,1319.3 1227.6,1319.5 1228.6,1319.7 C1229.5,1320.0 1230.5,1320.2 1231.5,1320.4 C1232.5,1320.6 1233.4,1320.8 1234.4,1321.1 C1235.4,1321.3 1236.4,1321.5 1237.4,1321.7 C1238.3,1321.9 1239.3,1322.1 1240.3,1322.3 C1241.3,1322.6 1242.3,1322.8 1243.2,1323.0 C1244.2,1323.2 1245.2,1323.4 1246.2,1323.6 C1247.2,1323.8 1248.1,1324.0 1249.1,1324.2 C1250.1,1324.4 1251.1,1324.6 1252.1,1324.8 C1253.1,1325.0 1254.0,1325.2 1255.0,1325.4 C1256.0,1325.6 1257.0,1325.8 1258.0,1326.0 C1259.0,1326.2 1259.9,1326.4 1260.9,1326.6 C1261.9,1326.8 1262.9,1327.0 1263.9,1327.1 C1264.9,1327.3 1265.8,1327.5 1266.8,1327.7 C1267.8,1327.9 1268.8,1328.1 1269.8,1328.3 C1270.8,1328.5 1271.7,1328.7 1272.7,1328.9 C1273.7,1329.0 1274.7,1329.2 1275.7,1329.4 C1276.7,1329.6 1277.6,1329.8 1278.6,1330.0 C1279.6,1330.2 1280.6,1330.3 1281.6,1330.5 C1282.6,1330.7 1283.5,1330.9 1284.5,1331.1 C1285.5,1331.3 1286.5,1331.4 1287.5,1331.6 C1288.5,1331.8 1289.5,1332.0 1290.4,1332.2 C1291.4,1332.3 1292.4,1332.5 1293.4,1332.7 C1294.4,1332.9 1295.4,1333.1 1296.4,1333.2 C1297.3,1333.4 1298.3,1333.6 1299.3,1333.8 C1300.3,1334.0 1301.3,1334.1 1302.3,1334.3 C1303.3,1334.5 1304.2,1334.7 1305.2,1334.8 C1306.2,1335.0 1307.2,1335.2 1308.2,1335.4 C1309.2,1335.5 1310.2,1335.7 1311.2,1335.9 C1312.1,1336.0 1313.1,1336.2 1314.1,1336.4 C1315.1,1336.6 1316.1,1336.7 1317.1,1336.9 C1318.1,1337.1 1319.1,1337.2 1320.0,1337.4 C1321.0,1337.6 1322.0,1337.8 1323.0,1337.9 C1324.0,1338.1 1325.0,1338.3 1326.0,1338.4 C1326.9,1338.6 1327.9,1338.8 1328.9,1338.9 C1329.9,1339.1 1330.9,1339.3 1331.9,1339.4 C1332.9,1339.6 1333.9,1339.8 1334.9,1339.9 C1335.8,1340.1 1336.8,1340.3 1337.8,1340.4 C1338.8,1340.6 1339.8,1340.8 1340.8,1340.9 C1341.8,1341.1 1342.8,1341.3 1343.7,1341.4 C1344.7,1341.6 1345.7,1341.8 1346.7,1341.9 C1347.7,1342.1 1348.7,1342.2 1349.7,1342.4 C1350.7,1342.6 1351.7,1342.7 1352.6,1342.9 C1353.6,1343.1 1354.6,1343.2 1355.6,1343.4 C1356.6,1343.5 1357.6,1343.7 1358.6,1343.9 C1359.6,1344.0 1360.6,1344.2 1361.5,1344.3 C1362.5,1344.5 1363.5,1344.7 1364.5,1344.8 C1365.5,1345.0 1366.5,1345.2 1367.5,1345.3 C1368.5,1345.5 1369.5,1345.6 1370.4,1345.8 C1371.4,1346.0 1372.4,1346.1 1373.4,1346.3 C1374.4,1346.4 1375.4,1346.6 1376.4,1346.7 C1377.4,1346.9 1378.4,1347.1 1379.3,1347.2 C1380.3,1347.4 1381.3,1347.5 1382.3,1347.7 C1383.3,1347.9 1384.3,1348.0 1385.3,1348.2 C1386.3,1348.3 1387.3,1348.5 1388.3,1348.7 C1389.2,1348.8 1390.2,1349.0 1391.2,1349.1 C1392.2,1349.3 1393.2,1349.4 1394.2,1349.6 C1395.2,1349.8 1396.2,1349.9 1397.2,1350.1 C1398.1,1350.2 1399.1,1350.4 1400.1,1350.5 C1401.1,1350.7 1402.1,1350.9 1403.1,1351.0 C1404.1,1351.2 1405.1,1351.3 1406.1,1351.5 C1407.1,1351.6 1408.0,1351.8 1409.0,1352.0 C1410.0,1352.1 1411.0,1352.3 1412.0,1352.4 C1413.0,1352.6 1414.0,1352.7 1415.0,1352.9 C1416.0,1353.1 1417.0,1353.2 1417.9,1353.4 C1418.9,1353.5 1419.9,1353.7 1420.9,1353.8 C1421.9,1354.0 1422.9,1354.1 1423.9,1354.3 C1424.9,1354.5 1425.9,1354.6 1426.9,1354.8 C1427.8,1354.9 1428.8,1355.1 1429.8,1355.2 C1430.8,1355.4 1431.8,1355.5 1432.8,1355.7 C1433.8,1355.8 1434.8,1356.0 1435.8,1356.2 C1436.8,1356.3 1437.7,1356.5 1438.7,1356.6 C1439.7,1356.8 1440.7,1356.9 1441.7,1357.1 C1442.7,1357.2 1443.7,1357.4 1444.7,1357.5 C1445.7,1357.7 1446.7,1357.9 1447.6,1358.0 C1448.6,1358.2 1449.6,1358.3 1450.6,1358.5 C1451.6,1358.6 1452.6,1358.8 1453.6,1358.9 C1454.6,1359.1 1455.6,1359.2 1456.6,1359.4 C1457.5,1359.5 1458.5,1359.7 1459.5,1359.8 C1460.5,1360.0 1461.5,1360.2 1462.5,1360.3 C1463.5,1360.5 1464.5,1360.6 1465.5,1360.8 C1466.5,1360.9 1467.5,1361.1 1468.4,1361.2 C1469.4,1361.4 1470.4,1361.5 1471.4,1361.7 C1472.4,1361.8 1473.4,1362.0 1474.4,1362.1 C1475.4,1362.3 1476.4,1362.4 1477.4,1362.6 C1478.3,1362.7 1479.3,1362.9 1480.3,1363.0 C1481.3,1363.2 1482.3,1363.3 1483.3,1363.5 C1484.3,1363.6 1485.3,1363.8 1486.3,1363.9 C1487.3,1364.1 1488.3,1364.2 1489.2,1364.4 C1490.2,1364.5 1491.2,1364.7 1492.2,1364.9 C1493.2,1365.0 1494.2,1365.2 1495.2,1365.3 C1496.2,1365.5 1497.2,1365.6 1498.2,1365.8 C1499.2,1365.9 1500.1,1366.1 1501.1,1366.2 C1502.1,1366.4 1503.1,1366.5 1504.1,1366.7 C1505.1,1366.8 1506.1,1367.0 1507.1,1367.1 C1508.1,1367.3 1509.1,1367.4 1510.1,1367.6 C1511.0,1367.7 1512.0,1367.9 1513.0,1368.0 C1514.0,1368.1 1515.0,1368.3 1516.0,1368.4 C1517.0,1368.6 1518.0,1368.7 1519.0,1368.9 C1520.0,1369.0 1521.0,1369.2 1521.9,1369.3 C1522.9,1369.5 1523.9,1369.6 1524.9,1369.8 C1525.9,1369.9 1526.9,1370.1 1527.9,1370.2 C1528.9,1370.4 1529.9,1370.5 1530.9,1370.7 C1531.9,1370.8 1532.8,1371.0 1533.8,1371.1 C1534.8,1371.3 1535.8,1371.4 1536.8,1371.6 C1537.8,1371.7 1538.8,1371.9 1539.8,1372.0 C1540.8,1372.2 1541.8,1372.3 1542.8,1372.5 C1543.7,1372.6 1544.7,1372.7 1545.7,1372.9 C1546.7,1373.0 1547.7,1373.2 1548.7,1373.3 C1549.7,1373.5 1550.7,1373.6 1551.7,1373.8 C1552.7,1373.9 1553.7,1374.1 1554.7,1374.2 C1555.6,1374.4 1556.6,1374.5 1557.6,1374.7 C1558.6,1374.8 1559.6,1375.0 1560.6,1375.1 C1561.6,1375.2 1562.6,1375.4 1563.6,1375.5 C1564.6,1375.7 1565.6,1375.8 1566.5,1376.0 C1567.5,1376.1 1568.5,1376.3 1569.5,1376.4 C1570.5,1376.6 1571.5,1376.7 1572.5,1376.9 C1573.5,1377.0 1574.5,1377.1 1575.5,1377.3 C1576.5,1377.4 1577.5,1377.6 1578.4,1377.7 C1579.4,1377.9 1580.4,1378.0 1581.4,1378.2 C1582.4,1378.3 1583.4,1378.5 1584.4,1378.6 C1585.4,1378.7 1586.4,1378.9 1587.4,1379.0 C1588.4,1379.2 1589.4,1379.3 1590.3,1379.5 C1591.3,1379.6 1592.3,1379.8 1593.3,1379.9 C1594.3,1380.0 1595.3,1380.2 1596.3,1380.3 C1597.3,1380.5 1598.3,1380.6 1599.3,1380.8 C1600.3,1380.9 1601.3,1381.1 1602.2,1381.2 C1603.2,1381.3 1604.2,1381.5 1605.2,1381.6 C1606.2,1381.8 1607.2,1381.9 1608.2,1382.1 C1609.2,1382.2 1610.2,1382.4 1611.2,1382.5 C1612.2,1382.6 1613.2,1382.8 1614.1,1382.9 C1615.1,1383.1 1616.1,1383.2 1617.1,1383.4 C1618.1,1383.5 1619.1,1383.7 1620.1,1383.8 C1621.1,1383.9 1622.1,1384.1 1623.1,1384.2 C1624.1,1384.4 1625.1,1384.5 1626.0,1384.7 C1627.0,1384.8 1628.0,1384.9 1629.0,1385.1 C1630.0,1385.2 1631.0,1385.4 1632.0,1385.5 C1633.0,1385.7 1634.0,1385.8 1635.0,1385.9 C1636.0,1386.1 1637.0,1386.2 1638.0,1386.4 C1638.9,1386.5 1639.9,1386.7 1640.9,1386.8 C1641.9,1386.9 1642.9,1387.1 1643.9,1387.2 C1644.9,1387.4 1645.9,1387.5 1646.9,1387.7 C1647.9,1387.8 1648.9,1387.9 1649.9,1388.1 C1650.8,1388.2 1651.8,1388.4 1652.8,1388.5 C1653.8,1388.7 1654.8,1388.8 1655.8,1388.9 C1656.8,1389.1 1657.8,1389.2 1658.8,1389.4 C1659.8,1389.5 1660.8,1389.6 1661.8,1389.8 C1662.8,1389.9 1663.7,1390.1 1664.7,1390.2 C1665.7,1390.4 1666.7,1390.5 1667.7,1390.6 C1668.7,1390.8 1669.7,1390.9 1670.7,1391.1 C1671.7,1391.2 1672.7,1391.3 1673.7,1391.5 C1674.7,1391.6 1675.7,1391.8 1676.6,1391.9 C1677.6,1392.1 1678.6,1392.2 1679.6,1392.3 C1680.6,1392.5 1681.6,1392.6 1682.6,1392.8 C1683.6,1392.9 1684.6,1393.0 1685.6,1393.2 C1686.6,1393.3 1687.6,1393.5 1688.5,1393.6 C1689.5,1393.7 1690.5,1393.9 1691.5,1394.0 C1692.5,1394.2 1693.5,1394.3 1694.5,1394.4 C1695.5,1394.6 1696.5,1394.7 1697.5,1394.9 C1698.5,1395.0 1699.5,1395.1 1700.5,1395.3 C1701.4,1395.4 1702.4,1395.6 1703.4,1395.7 C1704.4,1395.8 1705.4,1396.0 1706.4,1396.1 C1707.4,1396.3 1708.4,1396.4 1709.4,1396.6 C1710.4,1396.7 1711.4,1396.8 1712.4,1397.0 C1713.4,1397.1 1714.3,1397.3 1715.3,1397.4 C1716.3,1397.5 1717.3,1397.7 1718.3,1397.8 C1719.3,1398.0 1720.3,1398.1 1721.3,1398.2 C1722.3,1398.4 1723.3,1398.5 1724.3,1398.6 C1725.3,1398.8 1726.3,1398.9 1727.2,1399.1 C1728.2,1399.2 1729.2,1399.3 1730.2,1399.5 C1731.2,1399.6 1732.2,1399.8 1733.2,1399.9 C1734.2,1400.0 1735.2,1400.2 1736.2,1400.3 C1737.2,1400.5 1738.2,1400.6 1739.2,1400.7 C1740.1,1400.9 1741.1,1401.0 1742.1,1401.2 C1743.1,1401.3 1744.1,1401.4 1745.1,1401.6 C1746.1,1401.7 1747.1,1401.9 1748.1,1402.0 C1749.1,1402.1 1750.1,1402.3 1751.1,1402.4 C1752.1,1402.6 1753.1,1402.7 1754.0,1402.8 C1755.0,1403.0 1756.0,1403.1 1757.0,1403.2 C1758.0,1403.4 1759.0,1403.5 1760.0,1403.7 C1761.0,1403.8 1762.0,1403.9 1763.0,1404.1 C1764.0,1404.2 1765.0,1404.4 1766.0,1404.5 C1766.9,1404.6 1767.9,1404.8 1768.9,1404.9 C1769.9,1405.1 1770.9,1405.2 1771.9,1405.3 C1772.9,1405.5 1773.9,1405.6 1774.9,1405.7 C1775.9,1405.9 1776.9,1406.0 1777.9,1406.2 C1778.9,1406.3 1779.8,1406.4 1780.8,1406.6 C1781.8,1406.7 1782.8,1406.9 1783.8,1407.0 C1784.8,1407.1 1785.8,1407.3 1786.8,1407.4 C1787.8,1407.6 1788.8,1407.7 1789.8,1407.8 C1790.8,1408.0 1791.8,1408.1 1792.7,1408.2 C1793.7,1408.4 1794.7,1408.5 1795.7,1408.7 C1796.7,1408.8 1797.7,1408.9 1798.7,1409.1 C1799.7,1409.2 1800.7,1409.4 1801.7,1409.5 C1802.7,1409.6 1803.7,1409.8 1804.7,1409.9 C1805.6,1410.0 1806.6,1410.2 1807.6,1410.3 C1808.6,1410.5 1809.6,1410.6 1810.6,1410.7 C1811.6,1410.9 1812.6,1411.0 1813.6,1411.2 C1814.6,1411.3 1815.6,1411.4 1816.6,1411.6 C1817.6,1411.7 1818.6,1411.8 1819.5,1412.0 C1820.5,1412.1 1821.5,1412.3 1822.5,1412.4 C1823.5,1412.5 1824.5,1412.7 1825.5,1412.8 C1826.5,1413.0 1827.5,1413.1 1828.5,1413.2 C1829.5,1413.4 1830.5,1413.5 1831.5,1413.6 C1832.4,1413.8 1833.4,1413.9 1834.4,1414.1 C1835.4,1414.2 1836.4,1414.3 1837.4,1414.5 C1838.4,1414.6 1839.4,1414.8 1840.4,1414.9 C1841.4,1415.0 1842.4,1415.2 1843.4,1415.3 C1844.4,1415.4 1845.3,1415.6 1846.3,1415.7 C1847.3,1415.9 1848.3,1416.0 1849.3,1416.1 C1850.3,1416.3 1851.3,1416.4 1852.3,1416.6 C1853.3,1416.7 1854.3,1416.8 1855.3,1417.0 C1856.3,1417.1 1857.3,1417.3 1858.2,1417.4 C1859.2,1417.5 1860.2,1417.7 1861.2,1417.8 C1862.2,1417.9 1863.2,1418.1 1864.2,1418.2 C1865.2,1418.4 1866.2,1418.5 1867.2,1418.6 C1868.2,1418.8 1869.2,1418.9 1870.2,1419.1 C1871.1,1419.2 1872.1,1419.3 1873.1,1419.5 C1874.1,1419.6 1875.1,1419.8 1876.1,1419.9 C1877.1,1420.0 1878.1,1420.2 1879.1,1420.3 C1880.1,1420.5 1881.1,1420.6 1882.1,1420.7 C1883.1,1420.9 1884.1,1421.0 1885.0,1421.1 C1886.0,1421.3 1887.0,1421.4 1888.0,1421.6 C1889.0,1421.7 1890.0,1421.8 1891.0,1422.0 C1892.0,1422.1 1893.0,1422.3 1894.0,1422.4 C1895.0,1422.5 1896.0,1422.7 1897.0,1422.8 C1897.9,1423.0 1898.9,1423.1 1899.9,1423.2 C1900.9,1423.4 1901.9,1423.5 1902.9,1423.7 C1903.9,1423.8 1904.9,1423.9 1905.9,1424.1 C1906.9,1424.2 1907.9,1424.4 1908.9,1424.5 C1909.8,1424.6 1910.8,1424.8 1911.8,1424.9 C1912.8,1425.1 1913.8,1425.2 1914.8,1425.3 C1915.8,1425.5 1916.8,1425.6 1917.8,1425.8 C1918.8,1425.9 1919.8,1426.0 1920.8,1426.2 C1921.8,1426.3 1922.7,1426.5 1923.7,1426.6 C1924.7,1426.7 1925.7,1426.9 1926.7,1427.0 C1927.7,1427.2 1928.7,1427.3 1929.7,1427.4 C1930.7,1427.6 1931.7,1427.7 1932.7,1427.9 C1933.7,1428.0 1934.7,1428.1 1935.6,1428.3 C1936.6,1428.4 1937.6,1428.6 1938.6,1428.7 C1939.6,1428.8 1940.6,1429.0 1941.6,1429.1 C1942.6,1429.3 1943.6,1429.4 1944.6,1429.6 C1945.6,1429.7 1946.6,1429.8 1947.6,1430.0 C1948.5,1430.1 1949.5,1430.3 1950.5,1430.4 C1951.5,1430.5 1952.5,1430.7 1953.5,1430.8 C1954.5,1431.0 1955.5,1431.1 1956.5,1431.2 C1957.5,1431.4 1958.5,1431.5 1959.5,1431.7 C1960.4,1431.8 1961.4,1432.0 1962.4,1432.1 C1963.4,1432.2 1964.4,1432.4 1965.4,1432.5 C1966.4,1432.7 1967.4,1432.8 1968.4,1432.9 C1969.4,1433.1 1970.4,1433.2 1971.4,1433.4 C1972.4,1433.5 1973.3,1433.7 1974.3,1433.8 C1975.3,1433.9 1976.3,1434.1 1977.3,1434.2 C1978.3,1434.4 1979.3,1434.5 1980.3,1434.7 C1981.3,1434.8 1982.3,1434.9 1983.3,1435.1 C1984.3,1435.2 1985.2,1435.4 1986.2,1435.5 C1987.2,1435.7 1988.2,1435.8 1989.2,1435.9 C1990.2,1436.1 1991.2,1436.2 1992.2,1436.4 C1993.2,1436.5 1994.2,1436.7 1995.2,1436.8 C1996.2,1436.9 1997.1,1437.1 1998.1,1437.2 C1999.1,1437.4 2000.1,1437.5 2001.1,1437.7 C2002.1,1437.8 2003.1,1437.9 2004.1,1438.1 C2005.1,1438.2 2006.1,1438.4 2007.1,1438.5 C2008.1,1438.7 2009.0,1438.8 2010.0,1439.0 C2011.0,1439.1 2012.0,1439.2 2013.0,1439.4" stroke="#008080"/>
</g>
<rect x="204.5" y="41.0" width="1807.7" height="1470.0" fill="none" stroke="#000" stroke-width="5"/>
<path d="M393.8,1511.0V1540.0 M631.9,1511.0V1540.0 M869.9,1511.0V1540.0 M1108.0,1511.0V1540.0 M1346.0,1511.0V1540.0 M1584.1,1511.0V1540.0 M1822.1,1511.0V1540.0 M274.8,1511.0V1526.0 M512.8,1511.0V1526.0 M750.9,1511.0V1526.0 M988.9,1511.0V1526.0 M1227.0,1511.0V1526.0 M1465.0,1511.0V1526.0 M1703.1,1511.0V1526.0 M1941.1,1511.0V1526.0" stroke="#000" stroke-width="5" fill="none"/>
<g font-family="Liberation Sans, Arial, sans-serif" fill="#000">
<text x="393.8" y="1600" font-size="55.5" text-anchor="middle">50</text>
<text x="631.9" y="1600" font-size="55.5" text-anchor="middle">75</text>
<text x="869.9" y="1600" font-size="55.5" text-anchor="middle">100</text>
<text x="1108.0" y="1600" font-size="55.5" text-anchor="middle">125</text>
<text x="1346.0" y="1600" font-size="55.5" text-anchor="middle">150</text>
<text x="1584.1" y="1600" font-size="55.5" text-anchor="middle">175</text>
<text x="1822.1" y="1600" font-size="55.5" text-anchor="middle">200</text>
<text transform="translate(837.2,474.8) scale(1,1.05)" font-size="68">120.8</text><text x="1025.4" y="437.5" font-size="37.5">o</text><text transform="translate(1047.4,474.8) scale(1,1.05)" font-size="68">C</text>
<text transform="translate(909.3,772.0) scale(1,1.05)" font-size="68">122.4</text><text x="1097.0" y="734.4" font-size="37.5">o</text><text transform="translate(1118.2,772.0) scale(1,1.05)" font-size="68">C</text>
<text transform="translate(1007.2,994.5) scale(1,1.05)" font-size="68">124.7</text><text x="1195.0" y="956.2" font-size="37.5">o</text><text transform="translate(1216.1,994.5) scale(1,1.05)" font-size="68">C</text>
<text transform="translate(919.7,1195.9) scale(1,1.05)" font-size="68">123.0</text><text x="1107.7" y="1157.5" font-size="37.5">o</text><text transform="translate(1128.9,1195.9) scale(1,1.05)" font-size="68">C</text>
<text transform="translate(1469.1,667.6) scale(1,1.045)" font-size="68">A PS</text>
<text transform="translate(1462.1,924.3) scale(0.986,1.045)" font-size="68">B PS/OMMT-1</text>
<text transform="translate(1470.1,1150.4) scale(0.993,1.045)" font-size="68">C PS/OMMT-3</text>
<text transform="translate(1473.9,1346.5) scale(0.989,1.045)" font-size="68">D PS/OMMT-5</text>
<text transform="translate(844.5,1688) scale(1,1.03)" font-size="68">Temperature/(<tspan font-size="58" dy="2">°</tspan><tspan dy="-2">C)</tspan></text>
<text transform="translate(79.6,997.7) rotate(-90) scale(1,1.03)" font-size="68">Heat Flow (mW)</text>
</g>
</svg>
</body></html>
